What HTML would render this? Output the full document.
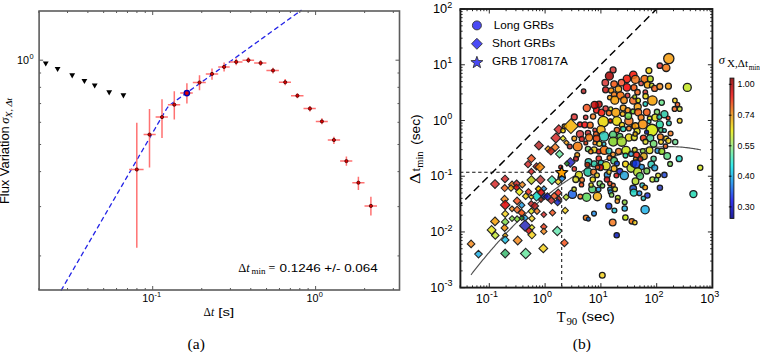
<!DOCTYPE html>
<html><head><meta charset="utf-8"><style>
html,body{margin:0;padding:0;background:#fff;width:760px;height:352px;overflow:hidden}
svg{display:block}
text{font-family:"Liberation Sans",sans-serif}
</style></head><body>
<svg width="760" height="352" viewBox="0 0 760 352">
<rect x="0" y="0" width="760" height="352" fill="#fff"/>
<path d="M61.00,290.65 L61.50,289.79 L62.00,288.93 L62.50,288.07 L63.00,287.21 L63.50,286.34 L64.00,285.48 L64.50,284.62 L65.00,283.76 L65.50,282.90 L66.00,282.04 L66.50,281.18 L67.00,280.31 L67.50,279.45 L68.00,278.59 L68.50,277.73 L69.00,276.87 L69.50,276.01 L70.00,275.15 L70.50,274.28 L71.00,273.42 L71.50,272.56 L72.00,271.70 L72.50,270.84 L73.00,269.98 L73.50,269.12 L74.00,268.25 L74.50,267.39 L75.00,266.53 L75.50,265.67 L76.00,264.81 L76.50,263.95 L77.00,263.09 L77.50,262.22 L78.00,261.36 L78.50,260.50 L79.00,259.64 L79.50,258.78 L80.00,257.92 L80.50,257.06 L81.00,256.19 L81.50,255.33 L82.00,254.47 L82.50,253.61 L83.00,252.75 L83.50,251.89 L84.00,251.03 L84.50,250.16 L85.00,249.30 L85.50,248.44 L86.00,247.58 L86.50,246.72 L87.00,245.86 L87.50,245.00 L88.00,244.13 L88.50,243.27 L89.00,242.41 L89.50,241.55 L90.00,240.69 L90.50,239.83 L91.00,238.97 L91.50,238.10 L92.00,237.24 L92.50,236.38 L93.00,235.52 L93.50,234.66 L94.00,233.80 L94.50,232.94 L95.00,232.08 L95.50,231.21 L96.00,230.35 L96.50,229.49 L97.00,228.63 L97.50,227.77 L98.00,226.91 L98.50,226.05 L99.00,225.18 L99.50,224.32 L100.00,223.46 L100.50,222.60 L101.00,221.74 L101.50,220.88 L102.00,220.02 L102.50,219.15 L103.00,218.29 L103.50,217.43 L104.00,216.57 L104.50,215.71 L105.00,214.85 L105.50,213.99 L106.00,213.12 L106.50,212.26 L107.00,211.40 L107.50,210.54 L108.00,209.68 L108.50,208.82 L109.00,207.96 L109.50,207.09 L110.00,206.23 L110.50,205.37 L111.00,204.51 L111.50,203.65 L112.00,202.79 L112.50,201.93 L113.00,201.06 L113.50,200.20 L114.00,199.34 L114.50,198.48 L115.00,197.62 L115.50,196.76 L116.00,195.90 L116.50,195.03 L117.00,194.17 L117.50,193.31 L118.00,192.45 L118.50,191.59 L119.00,190.73 L119.50,189.87 L120.00,189.00 L120.50,188.14 L121.00,187.28 L121.50,186.42 L122.00,185.56 L122.50,184.70 L123.00,183.84 L123.50,182.97 L124.00,182.11 L124.50,181.25 L125.00,180.39 L125.50,179.53 L126.00,178.67 L126.50,177.81 L127.00,176.94 L127.50,176.08 L128.00,175.22 L128.50,174.36 L129.00,173.50 L129.50,172.64 L130.00,171.78 L130.50,170.91 L131.00,170.05 L131.50,169.19 L132.00,168.33 L132.50,167.47 L133.00,166.61 L133.50,165.75 L134.00,164.89 L134.50,164.02 L135.00,163.16 L135.50,162.30 L136.00,161.44 L136.50,160.58 L137.00,159.72 L137.50,158.86 L138.00,157.99 L138.50,157.13 L139.00,156.27 L139.50,155.41 L140.00,154.55 L140.50,153.69 L141.00,152.83 L141.50,151.96 L142.00,151.10 L142.50,150.24 L143.00,149.38 L143.50,148.52 L144.00,147.66 L144.50,146.80 L145.00,145.93 L145.50,145.07 L146.00,144.21 L146.50,143.35 L147.00,142.49 L147.50,141.63 L148.00,140.77 L148.50,139.90 L149.00,139.04 L149.50,138.18 L150.00,137.32 L150.50,136.46 L151.00,135.60 L151.50,134.74 L152.00,133.87 L152.50,133.01 L153.00,132.15 L153.50,131.29 L154.00,130.43 L154.50,129.57 L155.00,128.71 L155.50,127.84 L156.00,126.98 L156.50,126.12 L157.00,125.26 L157.50,124.40 L158.00,123.54 L158.50,122.68 L159.00,121.81 L159.50,120.95 L160.00,120.09 L160.50,119.23 L161.00,118.37 L161.50,117.51 L162.00,116.65 L162.50,115.79 L163.00,114.92 L163.50,114.06 L164.00,113.21 L164.50,112.35 L165.00,111.50 L165.50,110.65 L166.00,109.82 L166.50,109.01 L167.00,108.24 L167.50,107.52 L168.00,106.87 L168.50,106.30 L169.00,105.80 L169.50,105.35 L170.00,104.94 L170.50,104.55 L171.00,104.18 L171.50,103.81 L172.00,103.45 L172.50,103.08 L173.00,102.72 L173.50,102.36 L174.00,102.00 L174.50,101.64 L175.00,101.28 L175.50,100.92 L176.00,100.56 L176.50,100.20 L177.00,99.84 L177.50,99.48 L178.00,99.12 L178.50,98.76 L179.00,98.40 L179.50,98.04 L180.00,97.67 L180.50,97.31 L181.00,96.95 L181.50,96.59 L182.00,96.23 L182.50,95.87 L183.00,95.51 L183.50,95.15 L184.00,94.79 L184.50,94.43 L185.00,94.07 L185.50,93.71 L186.00,93.35 L186.50,92.99 L187.00,92.63 L187.50,92.27 L188.00,91.91 L188.50,91.55 L189.00,91.19 L189.50,90.83 L190.00,90.47 L190.50,90.11 L191.00,89.75 L191.50,89.39 L192.00,89.03 L192.50,88.67 L193.00,88.31 L193.50,87.95 L194.00,87.59 L194.50,87.22 L195.00,86.86 L195.50,86.50 L196.00,86.14 L196.50,85.78 L197.00,85.42 L197.50,85.06 L198.00,84.70 L198.50,84.34 L199.00,83.98 L199.50,83.62 L200.00,83.26 L200.50,82.90 L201.00,82.54 L201.50,82.18 L202.00,81.82 L202.50,81.46 L203.00,81.10 L203.50,80.74 L204.00,80.38 L204.50,80.02 L205.00,79.66 L205.50,79.30 L206.00,78.94 L206.50,78.58 L207.00,78.22 L207.50,77.86 L208.00,77.50 L208.50,77.14 L209.00,76.77 L209.50,76.41 L210.00,76.05 L210.50,75.69 L211.00,75.33 L211.50,74.97 L212.00,74.61 L212.50,74.25 L213.00,73.89 L213.50,73.53 L214.00,73.17 L214.50,72.81 L215.00,72.45 L215.50,72.09 L216.00,71.73 L216.50,71.37 L217.00,71.01 L217.50,70.65 L218.00,70.29 L218.50,69.93 L219.00,69.57 L219.50,69.21 L220.00,68.85 L220.50,68.49 L221.00,68.13 L221.50,67.77 L222.00,67.41 L222.50,67.05 L223.00,66.69 L223.50,66.32 L224.00,65.96 L224.50,65.60 L225.00,65.24 L225.50,64.88 L226.00,64.52 L226.50,64.16 L227.00,63.80 L227.50,63.44 L228.00,63.08 L228.50,62.72 L229.00,62.36 L229.50,62.00 L230.00,61.64 L230.50,61.28 L231.00,60.92 L231.50,60.56 L232.00,60.20 L232.50,59.84 L233.00,59.48 L233.50,59.12 L234.00,58.76 L234.50,58.40 L235.00,58.04 L235.50,57.68 L236.00,57.32 L236.50,56.96 L237.00,56.60 L237.50,56.24 L238.00,55.87 L238.50,55.51 L239.00,55.15 L239.50,54.79 L240.00,54.43 L240.50,54.07 L241.00,53.71 L241.50,53.35 L242.00,52.99 L242.50,52.63 L243.00,52.27 L243.50,51.91 L244.00,51.55 L244.50,51.19 L245.00,50.83 L245.50,50.47 L246.00,50.11 L246.50,49.75 L247.00,49.39 L247.50,49.03 L248.00,48.67 L248.50,48.31 L249.00,47.95 L249.50,47.59 L250.00,47.23 L250.50,46.87 L251.00,46.51 L251.50,46.15 L252.00,45.79 L252.50,45.42 L253.00,45.06 L253.50,44.70 L254.00,44.34 L254.50,43.98 L255.00,43.62 L255.50,43.26 L256.00,42.90 L256.50,42.54 L257.00,42.18 L257.50,41.82 L258.00,41.46 L258.50,41.10 L259.00,40.74 L259.50,40.38 L260.00,40.02 L260.50,39.66 L261.00,39.30 L261.50,38.94 L262.00,38.58 L262.50,38.22 L263.00,37.86 L263.50,37.50 L264.00,37.14 L264.50,36.78 L265.00,36.42 L265.50,36.06 L266.00,35.70 L266.50,35.34 L267.00,34.97 L267.50,34.61 L268.00,34.25 L268.50,33.89 L269.00,33.53 L269.50,33.17 L270.00,32.81 L270.50,32.45 L271.00,32.09 L271.50,31.73 L272.00,31.37 L272.50,31.01 L273.00,30.65 L273.50,30.29 L274.00,29.93 L274.50,29.57 L275.00,29.21 L275.50,28.85 L276.00,28.49 L276.50,28.13 L277.00,27.77 L277.50,27.41 L278.00,27.05 L278.50,26.69 L279.00,26.33 L279.50,25.97 L280.00,25.61 L280.50,25.25 L281.00,24.89 L281.50,24.52 L282.00,24.16 L282.50,23.80 L283.00,23.44 L283.50,23.08 L284.00,22.72 L284.50,22.36 L285.00,22.00 L285.50,21.64 L286.00,21.28 L286.50,20.92 L287.00,20.56 L287.50,20.20 L288.00,19.84 L288.50,19.48 L289.00,19.12 L289.50,18.76 L290.00,18.40 L290.50,18.04 L291.00,17.68 L291.50,17.32 L292.00,16.96 L292.50,16.60 L293.00,16.24 L293.50,15.88 L294.00,15.52 L294.50,15.16 L295.00,14.80 L295.50,14.44 L296.00,14.07 L296.50,13.71 L297.00,13.35 L297.50,12.99 L298.00,12.63 L298.50,12.27 L299.00,11.91 L299.50,11.55 L300.00,11.19 L300.50,10.83 L301.00,10.47 L301.50,10.11" fill="none" stroke="#2323e6" stroke-width="1.3" stroke-dasharray="5,3"/>
<path d="M42.85,61.40 L48.65,61.40 L45.75,66.60 Z" fill="#000"/>
<path d="M54.70,66.90 L60.50,66.90 L57.60,72.10 Z" fill="#000"/>
<path d="M69.30,73.30 L75.10,73.30 L72.20,78.50 Z" fill="#000"/>
<path d="M81.50,78.90 L87.30,78.90 L84.40,84.10 Z" fill="#000"/>
<path d="M91.80,83.40 L97.60,83.40 L94.70,88.60 Z" fill="#000"/>
<path d="M106.30,90.20 L112.10,90.20 L109.20,95.40 Z" fill="#000"/>
<path d="M120.50,93.20 L126.30,93.20 L123.40,98.40 Z" fill="#000"/>
<path d="M129.10,169.50 H143.60 M136.80,122.70 V247.70" stroke="#ff7272" stroke-width="1.5" fill="none"/>
<path d="M143.60,134.60 H155.70 M149.50,109.00 V167.50" stroke="#ff7272" stroke-width="1.5" fill="none"/>
<path d="M155.60,117.10 H167.90 M162.00,99.20 V138.10" stroke="#ff7272" stroke-width="1.5" fill="none"/>
<path d="M167.90,104.70 H180.20 M174.30,91.20 V119.60" stroke="#ff7272" stroke-width="1.5" fill="none"/>
<path d="M180.20,93.10 H192.80 M186.90,83.20 V103.60" stroke="#ff7272" stroke-width="1.5" fill="none"/>
<path d="M192.80,82.50 H205.80 M199.50,75.20 V90.30" stroke="#ff7272" stroke-width="1.5" fill="none"/>
<path d="M205.80,73.90 H218.20 M212.00,68.40 V79.70" stroke="#ff7272" stroke-width="1.5" fill="none"/>
<path d="M218.20,66.90 H229.70 M224.10,62.50 V71.60" stroke="#ff7272" stroke-width="1.5" fill="none"/>
<path d="M229.70,61.90 H242.50 M236.20,58.60 V65.30" stroke="#ff7272" stroke-width="1.5" fill="none"/>
<path d="M242.50,60.20 H254.10 M248.40,57.20 V63.00" stroke="#ff7272" stroke-width="1.5" fill="none"/>
<path d="M254.10,63.00 H266.40 M260.60,60.20 V65.70" stroke="#ff7272" stroke-width="1.5" fill="none"/>
<path d="M266.40,70.50 H278.90 M273.00,67.70 V73.40" stroke="#ff7272" stroke-width="1.5" fill="none"/>
<path d="M278.90,82.20 H291.00 M285.20,79.00 V85.30" stroke="#ff7272" stroke-width="1.5" fill="none"/>
<path d="M291.00,95.70 H303.50 M297.40,93.30 V98.30" stroke="#ff7272" stroke-width="1.5" fill="none"/>
<path d="M303.50,108.60 H315.80 M309.90,105.90 V111.40" stroke="#ff7272" stroke-width="1.5" fill="none"/>
<path d="M315.80,121.40 H327.80 M321.90,118.20 V124.30" stroke="#ff7272" stroke-width="1.5" fill="none"/>
<path d="M327.80,140.00 H340.10 M333.90,136.70 V144.10" stroke="#ff7272" stroke-width="1.5" fill="none"/>
<path d="M340.10,161.10 H352.30 M346.40,156.40 V165.70" stroke="#ff7272" stroke-width="1.5" fill="none"/>
<path d="M352.30,182.70 H364.50 M358.40,176.80 V190.00" stroke="#ff7272" stroke-width="1.5" fill="none"/>
<path d="M364.50,205.90 H377.00 M370.90,196.80 V215.50" stroke="#ff7272" stroke-width="1.5" fill="none"/>
<circle cx="136.80" cy="169.50" r="1.6" fill="#e00000" stroke="#400000" stroke-width="0.8"/>
<circle cx="149.50" cy="134.60" r="1.6" fill="#e00000" stroke="#400000" stroke-width="0.8"/>
<circle cx="162.00" cy="117.10" r="1.6" fill="#e00000" stroke="#400000" stroke-width="0.8"/>
<circle cx="174.30" cy="104.70" r="1.6" fill="#e00000" stroke="#400000" stroke-width="0.8"/>
<circle cx="186.90" cy="93.10" r="2.6" fill="#e00000" stroke="#0000b0" stroke-width="1.5"/>
<circle cx="199.50" cy="82.50" r="1.6" fill="#e00000" stroke="#400000" stroke-width="0.8"/>
<circle cx="212.00" cy="73.90" r="1.6" fill="#e00000" stroke="#400000" stroke-width="0.8"/>
<circle cx="224.10" cy="66.90" r="1.6" fill="#e00000" stroke="#400000" stroke-width="0.8"/>
<circle cx="236.20" cy="61.90" r="1.6" fill="#e00000" stroke="#400000" stroke-width="0.8"/>
<circle cx="248.40" cy="60.20" r="1.6" fill="#e00000" stroke="#400000" stroke-width="0.8"/>
<circle cx="260.60" cy="63.00" r="1.6" fill="#e00000" stroke="#400000" stroke-width="0.8"/>
<circle cx="273.00" cy="70.50" r="1.6" fill="#e00000" stroke="#400000" stroke-width="0.8"/>
<circle cx="285.20" cy="82.20" r="1.6" fill="#e00000" stroke="#400000" stroke-width="0.8"/>
<circle cx="297.40" cy="95.70" r="1.6" fill="#e00000" stroke="#400000" stroke-width="0.8"/>
<circle cx="309.90" cy="108.60" r="1.6" fill="#e00000" stroke="#400000" stroke-width="0.8"/>
<circle cx="321.90" cy="121.40" r="1.6" fill="#e00000" stroke="#400000" stroke-width="0.8"/>
<circle cx="333.90" cy="140.00" r="1.6" fill="#e00000" stroke="#400000" stroke-width="0.8"/>
<circle cx="346.40" cy="161.10" r="1.6" fill="#e00000" stroke="#400000" stroke-width="0.8"/>
<circle cx="358.40" cy="182.70" r="1.6" fill="#e00000" stroke="#400000" stroke-width="0.8"/>
<circle cx="370.90" cy="205.90" r="1.6" fill="#e00000" stroke="#400000" stroke-width="0.8"/>
<path d="M38.84,290.00 V288.00 M38.84,11.00 V13.00 M67.52,290.00 V288.00 M67.52,11.00 V13.00 M87.88,290.00 V288.00 M87.88,11.00 V13.00 M103.66,290.00 V288.00 M103.66,11.00 V13.00 M116.56,290.00 V288.00 M116.56,11.00 V13.00 M127.47,290.00 V288.00 M127.47,11.00 V13.00 M136.91,290.00 V288.00 M136.91,11.00 V13.00 M145.25,290.00 V288.00 M145.25,11.00 V13.00 M152.70,290.00 V286.00 M152.70,11.00 V15.00 M201.74,290.00 V288.00 M201.74,11.00 V13.00 M230.42,290.00 V288.00 M230.42,11.00 V13.00 M250.78,290.00 V288.00 M250.78,11.00 V13.00 M266.56,290.00 V288.00 M266.56,11.00 V13.00 M279.46,290.00 V288.00 M279.46,11.00 V13.00 M290.37,290.00 V288.00 M290.37,11.00 V13.00 M299.81,290.00 V288.00 M299.81,11.00 V13.00 M308.15,290.00 V288.00 M308.15,11.00 V13.00 M315.60,290.00 V286.00 M315.60,11.00 V15.00 M364.64,290.00 V288.00 M364.64,11.00 V13.00 M393.32,290.00 V288.00 M393.32,11.00 V13.00 M39.10,255.91 H41.10 M399.50,255.91 H397.50 M39.10,206.61 H41.10 M399.50,206.61 H397.50 M39.10,171.62 H41.10 M399.50,171.62 H397.50 M39.10,144.49 H41.10 M399.50,144.49 H397.50 M39.10,122.32 H41.10 M399.50,122.32 H397.50 M39.10,103.57 H41.10 M399.50,103.57 H397.50 M39.10,87.33 H41.10 M399.50,87.33 H397.50 M39.10,73.01 H41.10 M399.50,73.01 H397.50 M39.10,60.20 H43.10 M399.50,60.20 H395.50" stroke="#444" stroke-width="0.9" fill="none"/>
<rect x="39.10" y="11.00" width="360.40" height="279.00" fill="none" stroke="#5c5c5c" stroke-width="1.6"/>
<text x="142.2" y="301.6" font-size="10.2" style="font-family:'Liberation Sans',sans-serif" fill="#000" textLength="12" lengthAdjust="spacingAndGlyphs">10</text>
<text x="154.5" y="297" font-size="7.4" style="font-family:'Liberation Sans',sans-serif" fill="#000">-1</text>
<text x="306.4" y="301.6" font-size="10.2" style="font-family:'Liberation Sans',sans-serif" fill="#000" textLength="12" lengthAdjust="spacingAndGlyphs">10</text>
<text x="318.7" y="297" font-size="7.4" style="font-family:'Liberation Sans',sans-serif" fill="#000">0</text>
<text x="17.1" y="63.9" font-size="10.2" style="font-family:'Liberation Sans',sans-serif" fill="#000" textLength="12" lengthAdjust="spacingAndGlyphs">10</text>
<text x="29.4" y="59.3" font-size="7.4" style="font-family:'Liberation Sans',sans-serif" fill="#000">0</text>
<text x="238.2" y="271.8" font-size="12.5" style="font-family:'Liberation Serif',serif" fill="#000">Δ<tspan font-style="italic">t</tspan></text>
<text x="251.5" y="274.2" font-size="9" style="font-family:'Liberation Serif',serif" fill="#000">min</text>
<text x="268.5" y="272" font-size="12" style="font-family:'Liberation Serif',serif" fill="#000">=</text>
<text x="279.5" y="271.8" font-size="11.7" style="font-family:'Liberation Sans',sans-serif" fill="#000" textLength="98.3" lengthAdjust="spacingAndGlyphs">0.1246 +/- 0.064</text>
<text x="203.6" y="315.7" font-size="11.5" style="font-family:'Liberation Serif',serif" fill="#000">Δ<tspan font-style="italic">t</tspan></text>
<text x="218.3" y="315.7" font-size="11.5" style="font-family:'Liberation Sans',sans-serif" fill="#000" textLength="15.8" lengthAdjust="spacingAndGlyphs">[s]</text>
<g transform="translate(9.1,204.1) rotate(-90)"><text x="0" y="0" font-size="12" style="font-family:'Liberation Sans',sans-serif" fill="#000" textLength="77.9" lengthAdjust="spacingAndGlyphs">Flux Variation</text><text x="80.4" y="0" font-size="12.5" style="font-family:'Liberation Serif',serif" font-style="italic" fill="#000">σ</text><text x="86.4" y="2.6" font-size="8.8" style="font-family:'Liberation Serif',serif" font-style="italic" fill="#000" textLength="19.8" lengthAdjust="spacingAndGlyphs">X, Δt</text></g>
<text x="187.6" y="348.8" font-size="15.5" style="font-family:'Liberation Serif',serif" fill="#000">(a)</text>
<svg x="460.40" y="9.00" width="252.00" height="278.60" viewBox="460.40 9.00 252.00 278.60" overflow="hidden">
<path d="M657.50,8.16 L455.82,208.95" stroke="#000" stroke-width="1.45" stroke-dasharray="7.6,4.4" stroke-dashoffset="0.4" fill="none"/>
<path d="M460.0,172.3 H561.7" stroke="#111" stroke-width="1.05" stroke-dasharray="3.4,2.65" fill="none"/>
<path d="M561.7,286.1 V172.3" stroke="#111" stroke-width="1.05" stroke-dasharray="3.1,2.9" fill="none"/>
<path d="M471.0,274.79 L472.0,273.50 L473.0,272.21 L474.0,270.94 L475.0,269.67 L476.0,268.40 L477.0,267.14 L478.0,265.89 L479.0,264.65 L480.0,263.41 L481.0,262.18 L482.0,260.95 L483.0,259.73 L484.0,258.52 L485.0,257.32 L486.0,256.12 L487.0,254.92 L488.0,253.74 L489.0,252.56 L490.0,251.39 L491.0,250.22 L492.0,249.06 L493.0,247.91 L494.0,246.76 L495.0,245.62 L496.0,244.48 L497.0,243.36 L498.0,242.24 L499.0,241.12 L500.0,240.01 L501.0,238.91 L502.0,237.82 L503.0,236.73 L504.0,235.65 L505.0,234.57 L506.0,233.51 L507.0,232.44 L508.0,231.39 L509.0,230.34 L510.0,229.30 L511.0,228.26 L512.0,227.23 L513.0,226.21 L514.0,225.19 L515.0,224.18 L516.0,223.18 L517.0,222.18 L518.0,221.19 L519.0,220.21 L520.0,219.23 L521.0,218.26 L522.0,217.30 L523.0,216.34 L524.0,215.39 L525.0,214.45 L526.0,213.51 L527.0,212.58 L528.0,211.65 L529.0,210.73 L530.0,209.82 L531.0,208.92 L532.0,208.02 L533.0,207.13 L534.0,206.24 L535.0,205.36 L536.0,204.49 L537.0,203.62 L538.0,202.76 L539.0,201.91 L540.0,201.07 L541.0,200.23 L542.0,199.39 L543.0,198.57 L544.0,197.74 L545.0,196.93 L546.0,196.12 L547.0,195.32 L548.0,194.53 L549.0,193.74 L550.0,192.96 L551.0,192.19 L552.0,191.42 L553.0,190.66 L554.0,189.90 L555.0,189.15 L556.0,188.41 L557.0,187.68 L558.0,186.95 L559.0,186.22 L560.0,185.51 L561.0,184.80 L562.0,184.10 L563.0,183.40 L564.0,182.71 L565.0,182.03 L566.0,181.35 L567.0,180.68 L568.0,180.02 L569.0,179.36 L570.0,178.71 L571.0,178.07 L572.0,177.43 L573.0,176.80 L574.0,176.17 L575.0,175.56 L576.0,174.94 L577.0,174.34 L578.0,173.74 L579.0,173.15 L580.0,172.56 L581.0,171.99 L582.0,171.41 L583.0,170.85 L584.0,170.29 L585.0,169.74 L586.0,169.19 L587.0,168.65 L588.0,168.12 L589.0,167.59 L590.0,167.07 L591.0,166.56 L592.0,166.05 L593.0,165.55 L594.0,165.06 L595.0,164.57 L596.0,164.09 L597.0,163.62 L598.0,163.15 L599.0,162.69 L600.0,162.23 L601.0,161.79 L602.0,161.34 L603.0,160.91 L604.0,160.48 L605.0,160.06 L606.0,159.64 L607.0,159.23 L608.0,158.83 L609.0,158.44 L610.0,158.05 L611.0,157.66 L612.0,157.29 L613.0,156.92 L614.0,156.56 L615.0,156.20 L616.0,155.85 L617.0,155.51 L618.0,155.17 L619.0,154.84 L620.0,154.51 L621.0,154.20 L622.0,153.89 L623.0,153.58 L624.0,153.28 L625.0,152.99 L626.0,152.71 L627.0,152.43 L628.0,152.16 L629.0,151.89 L630.0,151.63 L631.0,151.38 L632.0,151.14 L633.0,150.90 L634.0,150.67 L635.0,150.44 L636.0,150.22 L637.0,150.01 L638.0,149.80 L639.0,149.60 L640.0,149.41 L641.0,149.22 L642.0,149.04 L643.0,148.87 L644.0,148.70 L645.0,148.54 L646.0,148.39 L647.0,148.24 L648.0,148.10 L649.0,147.96 L650.0,147.83 L651.0,147.71 L652.0,147.60 L653.0,147.49 L654.0,147.39 L655.0,147.29 L656.0,147.20 L657.0,147.12 L658.0,147.05 L659.0,146.98 L660.0,146.91 L661.0,146.86 L662.0,146.81 L663.0,146.76 L664.0,146.73 L665.0,146.70 L666.0,146.67 L667.0,146.66 L668.0,146.65 L669.0,146.64 L670.0,146.65 L671.0,146.66 L672.0,146.67 L673.0,146.69 L674.0,146.72 L675.0,146.76 L676.0,146.80 L677.0,146.85 L678.0,146.90 L679.0,146.96 L680.0,147.03 L681.0,147.11 L682.0,147.19 L683.0,147.27 L684.0,147.37 L685.0,147.47 L686.0,147.58 L687.0,147.69 L688.0,147.81 L689.0,147.94 L690.0,148.07 L691.0,148.21 L692.0,148.36 L693.0,148.51 L694.0,148.67 L695.0,148.83 L696.0,149.01 L697.0,149.19 L698.0,149.37 L699.0,149.56 L700.0,149.76 L701.0,149.97" fill="none" stroke="#505050" stroke-width="1.15"/>
<circle cx="668.8" cy="58.6" r="5.12" fill="#f49b0a" stroke="#1e1e1e" stroke-width="1.3" fill-opacity="0.85"/>
<circle cx="659.8" cy="65.7" r="2.71" fill="#de3232" stroke="#1e1e1e" stroke-width="1.3" fill-opacity="0.85"/>
<circle cx="666.2" cy="67.8" r="3.70" fill="#f4720a" stroke="#1e1e1e" stroke-width="1.3" fill-opacity="0.85"/>
<circle cx="648.9" cy="70.6" r="2.99" fill="#f4d10a" stroke="#1e1e1e" stroke-width="1.3" fill-opacity="0.85"/>
<circle cx="613.1" cy="69.9" r="2.99" fill="#d73333" stroke="#1e1e1e" stroke-width="1.3" fill-opacity="0.85"/>
<circle cx="609.4" cy="76.0" r="3.99" fill="#a80000" stroke="#1e1e1e" stroke-width="1.3" fill-opacity="0.85"/>
<circle cx="605.3" cy="82.7" r="3.27" fill="#d73333" stroke="#1e1e1e" stroke-width="1.3" fill-opacity="0.85"/>
<circle cx="583.6" cy="91.2" r="2.28" fill="#b82727" stroke="#1e1e1e" stroke-width="1.3" fill-opacity="0.85"/>
<circle cx="605.6" cy="89.8" r="2.99" fill="#c71212" stroke="#1e1e1e" stroke-width="1.3" fill-opacity="0.85"/>
<circle cx="633.3" cy="74.9" r="3.70" fill="#f41100" stroke="#1e1e1e" stroke-width="1.3" fill-opacity="0.85"/>
<circle cx="626.9" cy="78.9" r="3.70" fill="#f41000" stroke="#1e1e1e" stroke-width="1.3" fill-opacity="0.85"/>
<circle cx="635.4" cy="79.4" r="3.99" fill="#f4771c" stroke="#1e1e1e" stroke-width="1.3" fill-opacity="0.85"/>
<circle cx="644.6" cy="79.1" r="3.70" fill="#f46900" stroke="#1e1e1e" stroke-width="1.3" fill-opacity="0.85"/>
<circle cx="650.3" cy="78.9" r="2.99" fill="#b2d70f" stroke="#1e1e1e" stroke-width="1.3" fill-opacity="0.85"/>
<circle cx="614.1" cy="84.1" r="3.27" fill="#f4520a" stroke="#1e1e1e" stroke-width="1.3" fill-opacity="0.85"/>
<circle cx="621.5" cy="82.7" r="3.27" fill="#f4522e" stroke="#1e1e1e" stroke-width="1.3" fill-opacity="0.85"/>
<circle cx="626.9" cy="87.4" r="3.70" fill="#f40000" stroke="#1e1e1e" stroke-width="1.3" fill-opacity="0.85"/>
<circle cx="634.0" cy="87.7" r="2.99" fill="#f4520a" stroke="#1e1e1e" stroke-width="1.3" fill-opacity="0.85"/>
<circle cx="618.4" cy="89.1" r="3.27" fill="#f49b0a" stroke="#1e1e1e" stroke-width="1.3" fill-opacity="0.85"/>
<circle cx="641.1" cy="83.4" r="2.28" fill="#d74646" stroke="#1e1e1e" stroke-width="1.3" fill-opacity="0.85"/>
<circle cx="647.5" cy="84.8" r="3.27" fill="#f49e00" stroke="#1e1e1e" stroke-width="1.3" fill-opacity="0.85"/>
<circle cx="651.7" cy="85.5" r="2.28" fill="#c4d721" stroke="#1e1e1e" stroke-width="1.3" fill-opacity="0.85"/>
<circle cx="654.6" cy="88.4" r="2.99" fill="#f4641c" stroke="#1e1e1e" stroke-width="1.3" fill-opacity="0.85"/>
<circle cx="659.8" cy="86.5" r="2.99" fill="#f4891c" stroke="#1e1e1e" stroke-width="1.3" fill-opacity="0.85"/>
<circle cx="668.4" cy="86.2" r="2.99" fill="#f49b0a" stroke="#1e1e1e" stroke-width="1.3" fill-opacity="0.85"/>
<circle cx="611.2" cy="90.5" r="2.71" fill="#f48c00" stroke="#1e1e1e" stroke-width="1.3" fill-opacity="0.85"/>
<circle cx="637.5" cy="92.2" r="2.71" fill="#f4641c" stroke="#1e1e1e" stroke-width="1.3" fill-opacity="0.85"/>
<circle cx="645.3" cy="92.2" r="2.28" fill="#d73333" stroke="#1e1e1e" stroke-width="1.3" fill-opacity="0.85"/>
<circle cx="645.6" cy="96.2" r="2.71" fill="#e6d40c" stroke="#1e1e1e" stroke-width="1.3" fill-opacity="0.85"/>
<circle cx="614.1" cy="94.5" r="2.71" fill="#f4770a" stroke="#1e1e1e" stroke-width="1.3" fill-opacity="0.85"/>
<circle cx="620.5" cy="95.5" r="3.70" fill="#f46900" stroke="#1e1e1e" stroke-width="1.3" fill-opacity="0.85"/>
<circle cx="609.8" cy="97.6" r="2.28" fill="#f49b0a" stroke="#1e1e1e" stroke-width="1.3" fill-opacity="0.85"/>
<circle cx="614.8" cy="100.2" r="3.99" fill="#f49e00" stroke="#1e1e1e" stroke-width="1.3" fill-opacity="0.85"/>
<circle cx="624.0" cy="100.2" r="3.27" fill="#f4890a" stroke="#1e1e1e" stroke-width="1.3" fill-opacity="0.85"/>
<circle cx="627.6" cy="95.5" r="2.28" fill="#d73333" stroke="#1e1e1e" stroke-width="1.3" fill-opacity="0.85"/>
<circle cx="633.3" cy="100.5" r="3.70" fill="#f4641c" stroke="#1e1e1e" stroke-width="1.3" fill-opacity="0.85"/>
<circle cx="638.2" cy="100.5" r="2.28" fill="#d7d700" stroke="#1e1e1e" stroke-width="1.3" fill-opacity="0.85"/>
<circle cx="634.7" cy="96.9" r="1.95" fill="#b2d721" stroke="#1e1e1e" stroke-width="1.3" fill-opacity="0.85"/>
<circle cx="652.4" cy="100.5" r="4.70" fill="#f49e00" stroke="#1e1e1e" stroke-width="1.3" fill-opacity="0.85"/>
<circle cx="661.7" cy="102.6" r="2.71" fill="#67e68b" stroke="#1e1e1e" stroke-width="1.3" fill-opacity="0.85"/>
<circle cx="674.9" cy="100.5" r="2.28" fill="#f4d11c" stroke="#1e1e1e" stroke-width="1.3" fill-opacity="0.85"/>
<circle cx="645.3" cy="104.0" r="2.28" fill="#12c7b5" stroke="#1e1e1e" stroke-width="1.3" fill-opacity="0.85"/>
<circle cx="687.3" cy="87.4" r="3.99" fill="#c2e61f" stroke="#1e1e1e" stroke-width="1.3" fill-opacity="0.85"/>
<path d="M538.9,141.1 l4.38,4.38 l-4.38,4.38 l-4.38,-4.38 z" fill="#b82727" stroke="#262626" stroke-width="1.1" fill-opacity="0.85"/>
<path d="M558.8,124.8 l4.67,4.67 l-4.67,4.67 l-4.67,-4.67 z" fill="#d72a2a" stroke="#262626" stroke-width="1.1" fill-opacity="0.85"/>
<path d="M555.9,133.0 l4.97,4.97 l-4.97,4.97 l-4.97,-4.97 z" fill="#d72a2a" stroke="#262626" stroke-width="1.1" fill-opacity="0.85"/>
<path d="M555.2,143.4 l3.93,3.93 l-3.93,3.93 l-3.93,-3.93 z" fill="#f4771c" stroke="#262626" stroke-width="1.1" fill-opacity="0.85"/>
<path d="M548.1,145.9 l3.18,3.18 l-3.18,3.18 l-3.18,-3.18 z" fill="#f49b0a" stroke="#262626" stroke-width="1.1" fill-opacity="0.85"/>
<path d="M550.9,147.2 l3.93,3.93 l-3.93,3.93 l-3.93,-3.93 z" fill="#b81503" stroke="#262626" stroke-width="1.1" fill-opacity="0.85"/>
<path d="M559.5,150.1 l3.93,3.93 l-3.93,3.93 l-3.93,-3.93 z" fill="#67e69d" stroke="#262626" stroke-width="1.1" fill-opacity="0.85"/>
<circle cx="564.4" cy="126.3" r="2.28" fill="#f48c00" stroke="#1e1e1e" stroke-width="1.3" fill-opacity="0.85"/>
<circle cx="563.0" cy="130.6" r="2.28" fill="#f4d200" stroke="#1e1e1e" stroke-width="1.3" fill-opacity="0.85"/>
<path d="M563.0,135.5 l2.88,2.88 l-2.88,2.88 l-2.88,-2.88 z" fill="#e6e61f" stroke="#262626" stroke-width="1.1" fill-opacity="0.85"/>
<circle cx="586.8" cy="108.0" r="3.56" fill="#f4521c" stroke="#1e1e1e" stroke-width="1.3" fill-opacity="0.85"/>
<circle cx="596.5" cy="110.2" r="2.99" fill="#f40a0a" stroke="#1e1e1e" stroke-width="1.3" fill-opacity="0.85"/>
<circle cx="601.6" cy="112.5" r="3.33" fill="#f41100" stroke="#1e1e1e" stroke-width="1.3" fill-opacity="0.85"/>
<circle cx="605.6" cy="108.5" r="2.65" fill="#de3232" stroke="#1e1e1e" stroke-width="1.3" fill-opacity="0.85"/>
<circle cx="610.7" cy="108.9" r="1.95" fill="#d4e61f" stroke="#1e1e1e" stroke-width="1.3" fill-opacity="0.85"/>
<circle cx="609.0" cy="113.1" r="2.65" fill="#f4640a" stroke="#1e1e1e" stroke-width="1.3" fill-opacity="0.85"/>
<circle cx="615.8" cy="112.5" r="4.13" fill="#f49e00" stroke="#1e1e1e" stroke-width="1.3" fill-opacity="0.85"/>
<circle cx="623.2" cy="108.0" r="2.99" fill="#f49b0a" stroke="#1e1e1e" stroke-width="1.3" fill-opacity="0.85"/>
<circle cx="627.7" cy="110.2" r="2.65" fill="#f4890a" stroke="#1e1e1e" stroke-width="1.3" fill-opacity="0.85"/>
<circle cx="632.3" cy="111.4" r="1.95" fill="#b2d721" stroke="#1e1e1e" stroke-width="1.3" fill-opacity="0.85"/>
<circle cx="574.3" cy="117.0" r="2.99" fill="#de3232" stroke="#1e1e1e" stroke-width="1.3" fill-opacity="0.85"/>
<circle cx="585.7" cy="117.3" r="2.20" fill="#de3232" stroke="#1e1e1e" stroke-width="1.3" fill-opacity="0.85"/>
<circle cx="593.1" cy="116.5" r="2.65" fill="#f4771c" stroke="#1e1e1e" stroke-width="1.3" fill-opacity="0.85"/>
<circle cx="603.3" cy="121.6" r="5.26" fill="#e6d400" stroke="#1e1e1e" stroke-width="1.3" fill-opacity="0.85"/>
<circle cx="616.9" cy="121.0" r="4.47" fill="#e6d400" stroke="#1e1e1e" stroke-width="1.3" fill-opacity="0.85"/>
<circle cx="610.7" cy="121.0" r="1.95" fill="#f48c00" stroke="#1e1e1e" stroke-width="1.3" fill-opacity="0.85"/>
<circle cx="622.0" cy="125.0" r="2.65" fill="#f4d10a" stroke="#1e1e1e" stroke-width="1.3" fill-opacity="0.85"/>
<circle cx="628.9" cy="121.0" r="4.13" fill="#f4771c" stroke="#1e1e1e" stroke-width="1.3" fill-opacity="0.85"/>
<circle cx="628.3" cy="115.9" r="3.33" fill="#6ad746" stroke="#1e1e1e" stroke-width="1.3" fill-opacity="0.85"/>
<path d="M570.9,118.8 l7.36,7.36 l-7.36,7.36 l-7.36,-7.36 z" fill="#f4af00" stroke="#262626" stroke-width="1.1" fill-opacity="0.85"/>
<circle cx="580.0" cy="124.4" r="2.42" fill="#f40a0a" stroke="#1e1e1e" stroke-width="1.3" fill-opacity="0.85"/>
<circle cx="584.8" cy="124.8" r="2.99" fill="#f40a0a" stroke="#1e1e1e" stroke-width="1.3" fill-opacity="0.85"/>
<circle cx="590.2" cy="125.2" r="2.99" fill="#f4640a" stroke="#1e1e1e" stroke-width="1.3" fill-opacity="0.85"/>
<circle cx="601.0" cy="129.8" r="4.13" fill="#f4ad0a" stroke="#1e1e1e" stroke-width="1.3" fill-opacity="0.85"/>
<circle cx="616.9" cy="130.1" r="2.65" fill="#f4640a" stroke="#1e1e1e" stroke-width="1.3" fill-opacity="0.85"/>
<circle cx="623.2" cy="129.0" r="2.65" fill="#21d7b2" stroke="#1e1e1e" stroke-width="1.3" fill-opacity="0.85"/>
<circle cx="628.9" cy="128.4" r="2.42" fill="#f4771c" stroke="#1e1e1e" stroke-width="1.3" fill-opacity="0.85"/>
<circle cx="633.4" cy="126.1" r="1.95" fill="#f49b0a" stroke="#1e1e1e" stroke-width="1.3" fill-opacity="0.85"/>
<circle cx="580.0" cy="134.1" r="3.56" fill="#d73333" stroke="#1e1e1e" stroke-width="1.3" fill-opacity="0.85"/>
<circle cx="588.0" cy="133.0" r="2.65" fill="#d73333" stroke="#1e1e1e" stroke-width="1.3" fill-opacity="0.85"/>
<circle cx="594.8" cy="130.1" r="1.95" fill="#d73333" stroke="#1e1e1e" stroke-width="1.3" fill-opacity="0.85"/>
<circle cx="589.1" cy="137.5" r="3.56" fill="#f4770a" stroke="#1e1e1e" stroke-width="1.3" fill-opacity="0.85"/>
<circle cx="595.9" cy="134.1" r="2.42" fill="#f4520a" stroke="#1e1e1e" stroke-width="1.3" fill-opacity="0.85"/>
<circle cx="603.9" cy="136.4" r="4.70" fill="#24c7b5" stroke="#1e1e1e" stroke-width="1.3" fill-opacity="0.85"/>
<circle cx="613.0" cy="134.7" r="3.56" fill="#48c76d" stroke="#1e1e1e" stroke-width="1.3" fill-opacity="0.85"/>
<circle cx="619.8" cy="136.4" r="2.99" fill="#4bb84b" stroke="#1e1e1e" stroke-width="1.3" fill-opacity="0.85"/>
<circle cx="628.9" cy="137.5" r="3.56" fill="#e6d40c" stroke="#1e1e1e" stroke-width="1.3" fill-opacity="0.85"/>
<circle cx="574.3" cy="138.6" r="2.42" fill="#f49b0a" stroke="#1e1e1e" stroke-width="1.3" fill-opacity="0.85"/>
<circle cx="677.5" cy="104.5" r="2.20" fill="#f4521c" stroke="#1e1e1e" stroke-width="1.3" fill-opacity="0.85"/>
<circle cx="674.6" cy="108.9" r="2.42" fill="#f4641c" stroke="#1e1e1e" stroke-width="1.3" fill-opacity="0.85"/>
<circle cx="679.7" cy="108.9" r="2.42" fill="#c4d733" stroke="#1e1e1e" stroke-width="1.3" fill-opacity="0.85"/>
<circle cx="637.7" cy="106.8" r="3.56" fill="#f49b0a" stroke="#1e1e1e" stroke-width="1.3" fill-opacity="0.85"/>
<circle cx="633.1" cy="111.4" r="2.42" fill="#7cd746" stroke="#1e1e1e" stroke-width="1.3" fill-opacity="0.85"/>
<circle cx="638.2" cy="112.3" r="3.56" fill="#f4640a" stroke="#1e1e1e" stroke-width="1.3" fill-opacity="0.85"/>
<circle cx="646.8" cy="112.3" r="3.33" fill="#f4520a" stroke="#1e1e1e" stroke-width="1.3" fill-opacity="0.85"/>
<circle cx="657.0" cy="111.9" r="2.65" fill="#7cd76a" stroke="#1e1e1e" stroke-width="1.3" fill-opacity="0.85"/>
<circle cx="664.4" cy="114.2" r="3.56" fill="#24c7a3" stroke="#1e1e1e" stroke-width="1.3" fill-opacity="0.85"/>
<circle cx="668.1" cy="118.0" r="1.95" fill="#d7330f" stroke="#1e1e1e" stroke-width="1.3" fill-opacity="0.85"/>
<circle cx="641.1" cy="117.6" r="2.99" fill="#f4770a" stroke="#1e1e1e" stroke-width="1.3" fill-opacity="0.85"/>
<circle cx="655.3" cy="117.6" r="3.56" fill="#d7d70f" stroke="#1e1e1e" stroke-width="1.3" fill-opacity="0.85"/>
<circle cx="659.3" cy="117.0" r="2.42" fill="#24c7b5" stroke="#1e1e1e" stroke-width="1.3" fill-opacity="0.85"/>
<circle cx="649.6" cy="118.2" r="2.20" fill="#e6e61f" stroke="#1e1e1e" stroke-width="1.3" fill-opacity="0.85"/>
<circle cx="649.0" cy="121.6" r="1.95" fill="#24c7b5" stroke="#1e1e1e" stroke-width="1.3" fill-opacity="0.85"/>
<circle cx="679.7" cy="120.7" r="2.42" fill="#f4d11c" stroke="#1e1e1e" stroke-width="1.3" fill-opacity="0.85"/>
<circle cx="642.8" cy="124.4" r="4.47" fill="#f48c00" stroke="#1e1e1e" stroke-width="1.3" fill-opacity="0.85"/>
<circle cx="635.4" cy="126.1" r="3.33" fill="#f49b0a" stroke="#1e1e1e" stroke-width="1.3" fill-opacity="0.85"/>
<circle cx="659.8" cy="124.4" r="3.56" fill="#21d7a0" stroke="#1e1e1e" stroke-width="1.3" fill-opacity="0.85"/>
<circle cx="668.9" cy="123.3" r="2.42" fill="#24c7b5" stroke="#1e1e1e" stroke-width="1.3" fill-opacity="0.85"/>
<circle cx="651.9" cy="130.1" r="5.83" fill="#d4e600" stroke="#1e1e1e" stroke-width="1.3" fill-opacity="0.85"/>
<circle cx="661.0" cy="130.1" r="2.42" fill="#48c76d" stroke="#1e1e1e" stroke-width="1.3" fill-opacity="0.85"/>
<circle cx="664.4" cy="130.5" r="1.95" fill="#27b8b8" stroke="#1e1e1e" stroke-width="1.3" fill-opacity="0.85"/>
<circle cx="637.1" cy="131.2" r="2.99" fill="#d7d70f" stroke="#1e1e1e" stroke-width="1.3" fill-opacity="0.85"/>
<circle cx="670.6" cy="133.5" r="2.42" fill="#f4771c" stroke="#1e1e1e" stroke-width="1.3" fill-opacity="0.85"/>
<circle cx="660.4" cy="136.9" r="2.99" fill="#f4770a" stroke="#1e1e1e" stroke-width="1.3" fill-opacity="0.85"/>
<circle cx="666.1" cy="138.4" r="2.42" fill="#f4d11c" stroke="#1e1e1e" stroke-width="1.3" fill-opacity="0.85"/>
<circle cx="643.4" cy="138.1" r="2.99" fill="#f42e0a" stroke="#1e1e1e" stroke-width="1.3" fill-opacity="0.85"/>
<circle cx="650.2" cy="138.1" r="3.56" fill="#48c791" stroke="#1e1e1e" stroke-width="1.3" fill-opacity="0.85"/>
<circle cx="634.3" cy="137.5" r="2.99" fill="#d7d70f" stroke="#1e1e1e" stroke-width="1.3" fill-opacity="0.85"/>
<circle cx="577.7" cy="146.5" r="4.47" fill="#f47600" stroke="#1e1e1e" stroke-width="1.3" fill-opacity="0.85"/>
<circle cx="569.8" cy="146.5" r="2.42" fill="#b82727" stroke="#1e1e1e" stroke-width="1.3" fill-opacity="0.85"/>
<path d="M566.4,140.0 l2.59,2.59 l-2.59,2.59 l-2.59,-2.59 z" fill="#f49b0a" stroke="#262626" stroke-width="1.1" fill-opacity="0.85"/>
<circle cx="577.2" cy="155.0" r="2.42" fill="#f49b0a" stroke="#1e1e1e" stroke-width="1.3" fill-opacity="0.85"/>
<circle cx="576.0" cy="158.7" r="2.42" fill="#b81515" stroke="#1e1e1e" stroke-width="1.3" fill-opacity="0.85"/>
<path d="M570.3,157.7 l4.73,4.73 l-4.73,4.73 l-4.73,-4.73 z" fill="#2424c7" stroke="#262626" stroke-width="1.1" fill-opacity="0.85"/>
<path d="M566.9,161.0 l2.59,2.59 l-2.59,2.59 l-2.59,-2.59 z" fill="#2c992c" stroke="#262626" stroke-width="1.1" fill-opacity="0.85"/>
<circle cx="574.3" cy="168.9" r="2.20" fill="#f42e1c" stroke="#1e1e1e" stroke-width="1.3" fill-opacity="0.85"/>
<circle cx="560.7" cy="167.0" r="1.95" fill="#f41c0a" stroke="#1e1e1e" stroke-width="1.3" fill-opacity="0.85"/>
<circle cx="588.0" cy="149.1" r="2.65" fill="#7cd76a" stroke="#1e1e1e" stroke-width="1.3" fill-opacity="0.85"/>
<circle cx="594.2" cy="149.9" r="2.99" fill="#e6d40c" stroke="#1e1e1e" stroke-width="1.3" fill-opacity="0.85"/>
<circle cx="590.8" cy="151.6" r="2.20" fill="#f4890a" stroke="#1e1e1e" stroke-width="1.3" fill-opacity="0.85"/>
<circle cx="598.8" cy="151.6" r="2.42" fill="#d70f0f" stroke="#1e1e1e" stroke-width="1.3" fill-opacity="0.85"/>
<circle cx="599.3" cy="143.7" r="2.65" fill="#d7d721" stroke="#1e1e1e" stroke-width="1.3" fill-opacity="0.85"/>
<circle cx="604.4" cy="150.3" r="4.13" fill="#f46900" stroke="#1e1e1e" stroke-width="1.3" fill-opacity="0.85"/>
<circle cx="609.0" cy="151.1" r="2.99" fill="#24c7b5" stroke="#1e1e1e" stroke-width="1.3" fill-opacity="0.85"/>
<circle cx="613.0" cy="154.5" r="2.42" fill="#f4891c" stroke="#1e1e1e" stroke-width="1.3" fill-opacity="0.85"/>
<circle cx="618.6" cy="151.4" r="2.99" fill="#f4771c" stroke="#1e1e1e" stroke-width="1.3" fill-opacity="0.85"/>
<circle cx="626.0" cy="150.5" r="4.13" fill="#c2e60c" stroke="#1e1e1e" stroke-width="1.3" fill-opacity="0.85"/>
<circle cx="625.5" cy="155.6" r="2.42" fill="#21d7a0" stroke="#1e1e1e" stroke-width="1.3" fill-opacity="0.85"/>
<circle cx="631.1" cy="153.9" r="2.42" fill="#21a0d7" stroke="#1e1e1e" stroke-width="1.3" fill-opacity="0.85"/>
<circle cx="609.5" cy="157.9" r="2.42" fill="#f4771c" stroke="#1e1e1e" stroke-width="1.3" fill-opacity="0.85"/>
<circle cx="598.8" cy="158.5" r="2.65" fill="#f42e1c" stroke="#1e1e1e" stroke-width="1.3" fill-opacity="0.85"/>
<circle cx="588.5" cy="161.9" r="3.33" fill="#24c7b5" stroke="#1e1e1e" stroke-width="1.3" fill-opacity="0.85"/>
<circle cx="594.2" cy="163.9" r="2.99" fill="#24c7a3" stroke="#1e1e1e" stroke-width="1.3" fill-opacity="0.85"/>
<circle cx="601.0" cy="162.8" r="2.65" fill="#24c7b5" stroke="#1e1e1e" stroke-width="1.3" fill-opacity="0.85"/>
<circle cx="614.1" cy="160.7" r="3.33" fill="#48c76d" stroke="#1e1e1e" stroke-width="1.3" fill-opacity="0.85"/>
<circle cx="616.9" cy="163.6" r="2.42" fill="#0f46d7" stroke="#1e1e1e" stroke-width="1.3" fill-opacity="0.85"/>
<circle cx="606.1" cy="165.8" r="4.13" fill="#d7d70f" stroke="#1e1e1e" stroke-width="1.3" fill-opacity="0.85"/>
<circle cx="600.5" cy="167.5" r="2.99" fill="#d70000" stroke="#1e1e1e" stroke-width="1.3" fill-opacity="0.85"/>
<circle cx="597.6" cy="167.3" r="2.20" fill="#f4521c" stroke="#1e1e1e" stroke-width="1.3" fill-opacity="0.85"/>
<circle cx="587.4" cy="164.7" r="2.42" fill="#b82703" stroke="#1e1e1e" stroke-width="1.3" fill-opacity="0.85"/>
<circle cx="614.1" cy="168.7" r="2.99" fill="#f4ad0a" stroke="#1e1e1e" stroke-width="1.3" fill-opacity="0.85"/>
<circle cx="625.5" cy="164.1" r="2.99" fill="#f4d200" stroke="#1e1e1e" stroke-width="1.3" fill-opacity="0.85"/>
<circle cx="631.1" cy="168.1" r="4.13" fill="#b2d721" stroke="#1e1e1e" stroke-width="1.3" fill-opacity="0.85"/>
<circle cx="588.0" cy="172.1" r="4.13" fill="#15b894" stroke="#1e1e1e" stroke-width="1.3" fill-opacity="0.85"/>
<circle cx="593.6" cy="172.1" r="2.99" fill="#f4771c" stroke="#1e1e1e" stroke-width="1.3" fill-opacity="0.85"/>
<circle cx="578.9" cy="174.9" r="3.56" fill="#d7d70f" stroke="#1e1e1e" stroke-width="1.3" fill-opacity="0.85"/>
<circle cx="597.0" cy="175.3" r="2.42" fill="#e6d41f" stroke="#1e1e1e" stroke-width="1.3" fill-opacity="0.85"/>
<circle cx="607.3" cy="174.9" r="2.99" fill="#218ed7" stroke="#1e1e1e" stroke-width="1.3" fill-opacity="0.85"/>
<circle cx="609.0" cy="172.1" r="2.20" fill="#f4d11c" stroke="#1e1e1e" stroke-width="1.3" fill-opacity="0.85"/>
<circle cx="619.8" cy="171.5" r="2.99" fill="#2121d7" stroke="#1e1e1e" stroke-width="1.3" fill-opacity="0.85"/>
<circle cx="624.3" cy="175.5" r="4.13" fill="#21a0d7" stroke="#1e1e1e" stroke-width="1.3" fill-opacity="0.85"/>
<circle cx="616.4" cy="175.5" r="2.42" fill="#d70f0f" stroke="#1e1e1e" stroke-width="1.3" fill-opacity="0.85"/>
<circle cx="633.4" cy="163.6" r="2.99" fill="#0f46d7" stroke="#1e1e1e" stroke-width="1.3" fill-opacity="0.85"/>
<circle cx="661.0" cy="142.0" r="2.42" fill="#f4d11c" stroke="#1e1e1e" stroke-width="1.3" fill-opacity="0.85"/>
<circle cx="668.4" cy="140.8" r="2.65" fill="#f4d11c" stroke="#1e1e1e" stroke-width="1.3" fill-opacity="0.85"/>
<circle cx="675.2" cy="142.0" r="2.65" fill="#6ad78e" stroke="#1e1e1e" stroke-width="1.3" fill-opacity="0.85"/>
<circle cx="665.5" cy="146.2" r="2.20" fill="#f4641c" stroke="#1e1e1e" stroke-width="1.3" fill-opacity="0.85"/>
<circle cx="653.6" cy="143.7" r="3.33" fill="#6ad76a" stroke="#1e1e1e" stroke-width="1.3" fill-opacity="0.85"/>
<circle cx="649.6" cy="150.3" r="3.33" fill="#d7d70f" stroke="#1e1e1e" stroke-width="1.3" fill-opacity="0.85"/>
<circle cx="642.8" cy="151.1" r="2.42" fill="#7fc736" stroke="#1e1e1e" stroke-width="1.3" fill-opacity="0.85"/>
<circle cx="634.8" cy="149.9" r="2.42" fill="#d7d721" stroke="#1e1e1e" stroke-width="1.3" fill-opacity="0.85"/>
<circle cx="657.6" cy="150.7" r="2.65" fill="#218ed7" stroke="#1e1e1e" stroke-width="1.3" fill-opacity="0.85"/>
<circle cx="661.8" cy="151.4" r="2.99" fill="#8ed721" stroke="#1e1e1e" stroke-width="1.3" fill-opacity="0.85"/>
<circle cx="636.5" cy="155.0" r="2.99" fill="#f41c0a" stroke="#1e1e1e" stroke-width="1.3" fill-opacity="0.85"/>
<circle cx="643.9" cy="156.2" r="3.33" fill="#d7a00f" stroke="#1e1e1e" stroke-width="1.3" fill-opacity="0.85"/>
<circle cx="667.2" cy="156.0" r="3.33" fill="#58d77c" stroke="#1e1e1e" stroke-width="1.3" fill-opacity="0.85"/>
<circle cx="679.2" cy="158.7" r="2.99" fill="#21d7c4" stroke="#1e1e1e" stroke-width="1.3" fill-opacity="0.85"/>
<circle cx="653.6" cy="158.7" r="2.65" fill="#48c791" stroke="#1e1e1e" stroke-width="1.3" fill-opacity="0.85"/>
<circle cx="635.4" cy="159.0" r="1.95" fill="#f4890a" stroke="#1e1e1e" stroke-width="1.3" fill-opacity="0.85"/>
<circle cx="640.5" cy="159.0" r="2.42" fill="#b81515" stroke="#1e1e1e" stroke-width="1.3" fill-opacity="0.85"/>
<circle cx="636.0" cy="164.1" r="4.13" fill="#0f33d7" stroke="#1e1e1e" stroke-width="1.3" fill-opacity="0.85"/>
<circle cx="651.3" cy="164.4" r="3.33" fill="#24c7b5" stroke="#1e1e1e" stroke-width="1.3" fill-opacity="0.85"/>
<circle cx="641.7" cy="167.0" r="2.65" fill="#218ed7" stroke="#1e1e1e" stroke-width="1.3" fill-opacity="0.85"/>
<circle cx="654.7" cy="167.8" r="2.99" fill="#21a0d7" stroke="#1e1e1e" stroke-width="1.3" fill-opacity="0.85"/>
<circle cx="670.1" cy="163.9" r="2.42" fill="#7cd758" stroke="#1e1e1e" stroke-width="1.3" fill-opacity="0.85"/>
<circle cx="700.2" cy="167.8" r="2.65" fill="#d4e61f" stroke="#1e1e1e" stroke-width="1.3" fill-opacity="0.85"/>
<circle cx="637.7" cy="172.1" r="4.13" fill="#b2d721" stroke="#1e1e1e" stroke-width="1.3" fill-opacity="0.85"/>
<circle cx="646.8" cy="171.0" r="2.99" fill="#6dc748" stroke="#1e1e1e" stroke-width="1.3" fill-opacity="0.85"/>
<circle cx="640.0" cy="176.1" r="3.56" fill="#48c76d" stroke="#1e1e1e" stroke-width="1.3" fill-opacity="0.85"/>
<circle cx="658.1" cy="175.5" r="2.42" fill="#d7d721" stroke="#1e1e1e" stroke-width="1.3" fill-opacity="0.85"/>
<circle cx="664.4" cy="174.9" r="2.65" fill="#2146d7" stroke="#1e1e1e" stroke-width="1.3" fill-opacity="0.85"/>
<path d="M531.4,154.5 l4.02,4.02 l-4.02,4.02 l-4.02,-4.02 z" fill="#f4521c" stroke="#262626" stroke-width="1.1" fill-opacity="0.85"/>
<path d="M528.0,160.7 l3.54,3.54 l-3.54,3.54 l-3.54,-3.54 z" fill="#d72a2a" stroke="#262626" stroke-width="1.1" fill-opacity="0.85"/>
<path d="M536.5,162.9 l3.54,3.54 l-3.54,3.54 l-3.54,-3.54 z" fill="#b81515" stroke="#262626" stroke-width="1.1" fill-opacity="0.85"/>
<path d="M539.9,162.3 l4.73,4.73 l-4.73,4.73 l-4.73,-4.73 z" fill="#f48600" stroke="#262626" stroke-width="1.1" fill-opacity="0.85"/>
<path d="M531.4,168.4 l3.18,3.18 l-3.18,3.18 l-3.18,-3.18 z" fill="#d72121" stroke="#262626" stroke-width="1.1" fill-opacity="0.85"/>
<path d="M531.4,175.7 l4.38,4.38 l-4.38,4.38 l-4.38,-4.38 z" fill="#b5c712" stroke="#262626" stroke-width="1.1" fill-opacity="0.85"/>
<path d="M540.5,175.4 l4.38,4.38 l-4.38,4.38 l-4.38,-4.38 z" fill="#c03838" stroke="#262626" stroke-width="1.1" fill-opacity="0.85"/>
<path d="M551.9,175.7 l4.38,4.38 l-4.38,4.38 l-4.38,-4.38 z" fill="#43e6b0" stroke="#262626" stroke-width="1.1" fill-opacity="0.85"/>
<path d="M505.0,175.2 l3.78,3.78 l-3.78,3.78 l-3.78,-3.78 z" fill="#d72a2a" stroke="#262626" stroke-width="1.1" fill-opacity="0.85"/>
<path d="M495.0,179.7 l4.38,4.38 l-4.38,4.38 l-4.38,-4.38 z" fill="#d72a2a" stroke="#262626" stroke-width="1.1" fill-opacity="0.85"/>
<path d="M512.1,181.1 l3.54,3.54 l-3.54,3.54 l-3.54,-3.54 z" fill="#f4770a" stroke="#262626" stroke-width="1.1" fill-opacity="0.85"/>
<path d="M516.6,180.0 l3.54,3.54 l-3.54,3.54 l-3.54,-3.54 z" fill="#c72424" stroke="#262626" stroke-width="1.1" fill-opacity="0.85"/>
<path d="M522.3,181.5 l3.18,3.18 l-3.18,3.18 l-3.18,-3.18 z" fill="#f4891c" stroke="#262626" stroke-width="1.1" fill-opacity="0.85"/>
<path d="M504.7,184.5 l3.54,3.54 l-3.54,3.54 l-3.54,-3.54 z" fill="#f4641c" stroke="#262626" stroke-width="1.1" fill-opacity="0.85"/>
<path d="M511.0,184.9 l3.18,3.18 l-3.18,3.18 l-3.18,-3.18 z" fill="#f4ad0a" stroke="#262626" stroke-width="1.1" fill-opacity="0.85"/>
<path d="M516.6,184.3 l3.18,3.18 l-3.18,3.18 l-3.18,-3.18 z" fill="#d70000" stroke="#262626" stroke-width="1.1" fill-opacity="0.85"/>
<path d="M538.2,185.8 l2.83,2.83 l-2.83,2.83 l-2.83,-2.83 z" fill="#f4d11c" stroke="#262626" stroke-width="1.1" fill-opacity="0.85"/>
<path d="M543.9,185.8 l2.83,2.83 l-2.83,2.83 l-2.83,-2.83 z" fill="#218ed7" stroke="#262626" stroke-width="1.1" fill-opacity="0.85"/>
<path d="M519.4,188.0 l3.78,3.78 l-3.78,3.78 l-3.78,-3.78 z" fill="#e6e60c" stroke="#262626" stroke-width="1.1" fill-opacity="0.85"/>
<path d="M528.5,188.6 l3.18,3.18 l-3.18,3.18 l-3.18,-3.18 z" fill="#f42e1c" stroke="#262626" stroke-width="1.1" fill-opacity="0.85"/>
<path d="M525.7,193.0 l3.18,3.18 l-3.18,3.18 l-3.18,-3.18 z" fill="#f4d10a" stroke="#262626" stroke-width="1.1" fill-opacity="0.85"/>
<path d="M538.7,185.8 l3.18,3.18 l-3.18,3.18 l-3.18,-3.18 z" fill="#f4c100" stroke="#262626" stroke-width="1.1" fill-opacity="0.85"/>
<path d="M541.0,188.6 l3.78,3.78 l-3.78,3.78 l-3.78,-3.78 z" fill="#d70000" stroke="#262626" stroke-width="1.1" fill-opacity="0.85"/>
<path d="M536.5,191.6 l4.73,4.73 l-4.73,4.73 l-4.73,-4.73 z" fill="#0fd7c4" stroke="#262626" stroke-width="1.1" fill-opacity="0.85"/>
<path d="M544.4,193.2 l3.18,3.18 l-3.18,3.18 l-3.18,-3.18 z" fill="#1515b8" stroke="#262626" stroke-width="1.1" fill-opacity="0.85"/>
<path d="M531.3,194.4 l2.51,2.51 l-2.51,2.51 l-2.51,-2.51 z" fill="#f4d11c" stroke="#262626" stroke-width="1.1" fill-opacity="0.85"/>
<path d="M541.0,197.2 l2.59,2.59 l-2.59,2.59 l-2.59,-2.59 z" fill="#992c1a" stroke="#262626" stroke-width="1.1" fill-opacity="0.85"/>
<path d="M504.6,195.4 l3.78,3.78 l-3.78,3.78 l-3.78,-3.78 z" fill="#f4891c" stroke="#262626" stroke-width="1.1" fill-opacity="0.85"/>
<path d="M505.2,200.2 l4.73,4.73 l-4.73,4.73 l-4.73,-4.73 z" fill="#de0000" stroke="#262626" stroke-width="1.1" fill-opacity="0.85"/>
<path d="M517.1,197.1 l3.78,3.78 l-3.78,3.78 l-3.78,-3.78 z" fill="#f4521c" stroke="#262626" stroke-width="1.1" fill-opacity="0.85"/>
<path d="M521.7,202.0 l3.18,3.18 l-3.18,3.18 l-3.18,-3.18 z" fill="#1f9de6" stroke="#262626" stroke-width="1.1" fill-opacity="0.85"/>
<path d="M512.0,206.0 l2.83,2.83 l-2.83,2.83 l-2.83,-2.83 z" fill="#f4891c" stroke="#262626" stroke-width="1.1" fill-opacity="0.85"/>
<path d="M517.1,206.2 l3.54,3.54 l-3.54,3.54 l-3.54,-3.54 z" fill="#f4641c" stroke="#262626" stroke-width="1.1" fill-opacity="0.85"/>
<path d="M521.7,209.3 l3.54,3.54 l-3.54,3.54 l-3.54,-3.54 z" fill="#f44600" stroke="#262626" stroke-width="1.1" fill-opacity="0.85"/>
<path d="M531.3,200.6 l3.18,3.18 l-3.18,3.18 l-3.18,-3.18 z" fill="#c72424" stroke="#262626" stroke-width="1.1" fill-opacity="0.85"/>
<path d="M534.8,202.2 l3.78,3.78 l-3.78,3.78 l-3.78,-3.78 z" fill="#b81515" stroke="#262626" stroke-width="1.1" fill-opacity="0.85"/>
<path d="M537.0,208.0 l3.18,3.18 l-3.18,3.18 l-3.18,-3.18 z" fill="#f4771c" stroke="#262626" stroke-width="1.1" fill-opacity="0.85"/>
<path d="M531.3,208.0 l3.18,3.18 l-3.18,3.18 l-3.18,-3.18 z" fill="#d7d70f" stroke="#262626" stroke-width="1.1" fill-opacity="0.85"/>
<path d="M505.2,210.4 l3.54,3.54 l-3.54,3.54 l-3.54,-3.54 z" fill="#f4d11c" stroke="#262626" stroke-width="1.1" fill-opacity="0.85"/>
<path d="M525.1,214.8 l3.18,3.18 l-3.18,3.18 l-3.18,-3.18 z" fill="#1f9de6" stroke="#262626" stroke-width="1.1" fill-opacity="0.85"/>
<path d="M521.7,215.4 l2.59,2.59 l-2.59,2.59 l-2.59,-2.59 z" fill="#2c992c" stroke="#262626" stroke-width="1.1" fill-opacity="0.85"/>
<path d="M517.1,215.9 l3.18,3.18 l-3.18,3.18 l-3.18,-3.18 z" fill="#7cd733" stroke="#262626" stroke-width="1.1" fill-opacity="0.85"/>
<path d="M512.0,215.7 l2.83,2.83 l-2.83,2.83 l-2.83,-2.83 z" fill="#7cd746" stroke="#262626" stroke-width="1.1" fill-opacity="0.85"/>
<path d="M531.9,215.3 l3.18,3.18 l-3.18,3.18 l-3.18,-3.18 z" fill="#f4d11c" stroke="#262626" stroke-width="1.1" fill-opacity="0.85"/>
<path d="M543.8,211.7 l2.83,2.83 l-2.83,2.83 l-2.83,-2.83 z" fill="#d72a2a" stroke="#262626" stroke-width="1.1" fill-opacity="0.85"/>
<path d="M495.0,217.0 l4.38,4.38 l-4.38,4.38 l-4.38,-4.38 z" fill="#f49e00" stroke="#262626" stroke-width="1.1" fill-opacity="0.85"/>
<path d="M505.2,218.2 l3.78,3.78 l-3.78,3.78 l-3.78,-3.78 z" fill="#7cd746" stroke="#262626" stroke-width="1.1" fill-opacity="0.85"/>
<path d="M558.2,178.6 l3.18,3.18 l-3.18,3.18 l-3.18,-3.18 z" fill="#f4d11c" stroke="#262626" stroke-width="1.1" fill-opacity="0.85"/>
<path d="M562.2,175.2 l3.18,3.18 l-3.18,3.18 l-3.18,-3.18 z" fill="#1f8be6" stroke="#262626" stroke-width="1.1" fill-opacity="0.85"/>
<path d="M547.4,192.8 l3.78,3.78 l-3.78,3.78 l-3.78,-3.78 z" fill="#1515b8" stroke="#262626" stroke-width="1.1" fill-opacity="0.85"/>
<path d="M558.2,189.1 l3.54,3.54 l-3.54,3.54 l-3.54,-3.54 z" fill="#f42e1c" stroke="#262626" stroke-width="1.1" fill-opacity="0.85"/>
<path d="M554.2,192.5 l3.54,3.54 l-3.54,3.54 l-3.54,-3.54 z" fill="#f4521c" stroke="#262626" stroke-width="1.1" fill-opacity="0.85"/>
<path d="M551.4,197.0 l3.54,3.54 l-3.54,3.54 l-3.54,-3.54 z" fill="#b82727" stroke="#262626" stroke-width="1.1" fill-opacity="0.85"/>
<path d="M558.8,196.0 l2.83,2.83 l-2.83,2.83 l-2.83,-2.83 z" fill="#b81515" stroke="#262626" stroke-width="1.1" fill-opacity="0.85"/>
<path d="M557.6,198.7 l3.54,3.54 l-3.54,3.54 l-3.54,-3.54 z" fill="#1224c7" stroke="#262626" stroke-width="1.1" fill-opacity="0.85"/>
<path d="M566.1,194.0 l3.18,3.18 l-3.18,3.18 l-3.18,-3.18 z" fill="#b2d721" stroke="#262626" stroke-width="1.1" fill-opacity="0.85"/>
<circle cx="572.4" cy="194.3" r="4.13" fill="#1860e6" stroke="#1e1e1e" stroke-width="1.3" fill-opacity="0.85"/>
<circle cx="574.1" cy="189.2" r="2.20" fill="#c4d733" stroke="#1e1e1e" stroke-width="1.3" fill-opacity="0.85"/>
<circle cx="575.8" cy="179.5" r="2.99" fill="#d7d721" stroke="#1e1e1e" stroke-width="1.3" fill-opacity="0.85"/>
<circle cx="582.0" cy="180.1" r="2.42" fill="#f4771c" stroke="#1e1e1e" stroke-width="1.3" fill-opacity="0.85"/>
<circle cx="581.5" cy="184.7" r="2.20" fill="#f4400a" stroke="#1e1e1e" stroke-width="1.3" fill-opacity="0.85"/>
<circle cx="580.3" cy="196.6" r="2.42" fill="#f4771c" stroke="#1e1e1e" stroke-width="1.3" fill-opacity="0.85"/>
<circle cx="586.6" cy="197.2" r="4.13" fill="#58d758" stroke="#1e1e1e" stroke-width="1.3" fill-opacity="0.85"/>
<circle cx="592.3" cy="189.2" r="3.56" fill="#48c76d" stroke="#1e1e1e" stroke-width="1.3" fill-opacity="0.85"/>
<circle cx="592.8" cy="179.5" r="2.65" fill="#e6d40c" stroke="#1e1e1e" stroke-width="1.3" fill-opacity="0.85"/>
<circle cx="591.1" cy="185.0" r="2.20" fill="#d7d721" stroke="#1e1e1e" stroke-width="1.3" fill-opacity="0.85"/>
<circle cx="599.7" cy="183.5" r="2.65" fill="#7cd76a" stroke="#1e1e1e" stroke-width="1.3" fill-opacity="0.85"/>
<circle cx="602.5" cy="185.8" r="2.20" fill="#7cd758" stroke="#1e1e1e" stroke-width="1.3" fill-opacity="0.85"/>
<circle cx="598.5" cy="189.5" r="2.42" fill="#1f9de6" stroke="#1e1e1e" stroke-width="1.3" fill-opacity="0.85"/>
<circle cx="597.4" cy="196.6" r="4.13" fill="#f4ad0a" stroke="#1e1e1e" stroke-width="1.3" fill-opacity="0.85"/>
<circle cx="607.0" cy="179.5" r="2.65" fill="#d70f0f" stroke="#1e1e1e" stroke-width="1.3" fill-opacity="0.85"/>
<circle cx="609.9" cy="183.5" r="2.20" fill="#f4400a" stroke="#1e1e1e" stroke-width="1.3" fill-opacity="0.85"/>
<circle cx="613.3" cy="185.2" r="1.95" fill="#f4641c" stroke="#1e1e1e" stroke-width="1.3" fill-opacity="0.85"/>
<circle cx="609.9" cy="189.2" r="2.20" fill="#1f9de6" stroke="#1e1e1e" stroke-width="1.3" fill-opacity="0.85"/>
<circle cx="615.0" cy="189.2" r="2.42" fill="#d7d721" stroke="#1e1e1e" stroke-width="1.3" fill-opacity="0.85"/>
<circle cx="610.5" cy="192.0" r="2.20" fill="#21a0d7" stroke="#1e1e1e" stroke-width="1.3" fill-opacity="0.85"/>
<circle cx="611.6" cy="194.9" r="2.20" fill="#7cd758" stroke="#1e1e1e" stroke-width="1.3" fill-opacity="0.85"/>
<circle cx="617.8" cy="197.7" r="2.42" fill="#b2d721" stroke="#1e1e1e" stroke-width="1.3" fill-opacity="0.85"/>
<circle cx="617.3" cy="201.1" r="2.20" fill="#f4891c" stroke="#1e1e1e" stroke-width="1.3" fill-opacity="0.85"/>
<circle cx="608.8" cy="206.2" r="2.99" fill="#0f33d7" stroke="#1e1e1e" stroke-width="1.3" fill-opacity="0.85"/>
<circle cx="614.4" cy="210.5" r="2.42" fill="#21c4d7" stroke="#1e1e1e" stroke-width="1.3" fill-opacity="0.85"/>
<path d="M565.2,207.3 l3.18,3.18 l-3.18,3.18 l-3.18,-3.18 z" fill="#f4d11c" stroke="#262626" stroke-width="1.1" fill-opacity="0.85"/>
<path d="M552.5,209.5 l3.18,3.18 l-3.18,3.18 l-3.18,-3.18 z" fill="#f4521c" stroke="#262626" stroke-width="1.1" fill-opacity="0.85"/>
<circle cx="594.0" cy="213.6" r="2.42" fill="#1f8be6" stroke="#1e1e1e" stroke-width="1.3" fill-opacity="0.85"/>
<circle cx="635.5" cy="181.2" r="3.33" fill="#b2d721" stroke="#1e1e1e" stroke-width="1.3" fill-opacity="0.85"/>
<circle cx="652.5" cy="179.5" r="2.65" fill="#c2e631" stroke="#1e1e1e" stroke-width="1.3" fill-opacity="0.85"/>
<circle cx="656.5" cy="179.5" r="2.20" fill="#48c791" stroke="#1e1e1e" stroke-width="1.3" fill-opacity="0.85"/>
<circle cx="642.3" cy="185.2" r="2.42" fill="#27b8b8" stroke="#1e1e1e" stroke-width="1.3" fill-opacity="0.85"/>
<circle cx="645.1" cy="187.5" r="2.42" fill="#f49e00" stroke="#1e1e1e" stroke-width="1.3" fill-opacity="0.85"/>
<circle cx="633.2" cy="188.6" r="3.33" fill="#1248c7" stroke="#1e1e1e" stroke-width="1.3" fill-opacity="0.85"/>
<circle cx="633.8" cy="192.6" r="3.56" fill="#21d7c4" stroke="#1e1e1e" stroke-width="1.3" fill-opacity="0.85"/>
<circle cx="639.4" cy="193.2" r="2.42" fill="#1f8be6" stroke="#1e1e1e" stroke-width="1.3" fill-opacity="0.85"/>
<circle cx="659.9" cy="187.7" r="2.65" fill="#2739b8" stroke="#1e1e1e" stroke-width="1.3" fill-opacity="0.85"/>
<circle cx="647.4" cy="195.5" r="2.65" fill="#2133d7" stroke="#1e1e1e" stroke-width="1.3" fill-opacity="0.85"/>
<circle cx="643.4" cy="198.3" r="2.20" fill="#24c7c7" stroke="#1e1e1e" stroke-width="1.3" fill-opacity="0.85"/>
<circle cx="693.4" cy="194.1" r="3.56" fill="#21d7b2" stroke="#1e1e1e" stroke-width="1.3" fill-opacity="0.85"/>
<circle cx="624.7" cy="202.3" r="2.42" fill="#7fc736" stroke="#1e1e1e" stroke-width="1.3" fill-opacity="0.85"/>
<circle cx="624.7" cy="208.5" r="2.65" fill="#1fb0e6" stroke="#1e1e1e" stroke-width="1.3" fill-opacity="0.85"/>
<circle cx="645.1" cy="209.7" r="4.13" fill="#1fb0e6" stroke="#1e1e1e" stroke-width="1.3" fill-opacity="0.85"/>
<path d="M525.1,220.1 l5.57,5.57 l-5.57,5.57 l-5.57,-5.57 z" fill="#2727b8" stroke="#262626" stroke-width="1.1" fill-opacity="0.85"/>
<path d="M504.6,224.4 l3.54,3.54 l-3.54,3.54 l-3.54,-3.54 z" fill="#f48c00" stroke="#262626" stroke-width="1.1" fill-opacity="0.85"/>
<path d="M491.6,225.6 l4.38,4.38 l-4.38,4.38 l-4.38,-4.38 z" fill="#e6e61f" stroke="#262626" stroke-width="1.1" fill-opacity="0.85"/>
<path d="M531.9,224.6 l2.83,2.83 l-2.83,2.83 l-2.83,-2.83 z" fill="#e6e61f" stroke="#262626" stroke-width="1.1" fill-opacity="0.85"/>
<path d="M529.1,227.3 l3.54,3.54 l-3.54,3.54 l-3.54,-3.54 z" fill="#d70f0f" stroke="#262626" stroke-width="1.1" fill-opacity="0.85"/>
<path d="M531.9,230.8 l4.02,4.02 l-4.02,4.02 l-4.02,-4.02 z" fill="#f4d11c" stroke="#262626" stroke-width="1.1" fill-opacity="0.85"/>
<path d="M495.3,231.6 l3.78,3.78 l-3.78,3.78 l-3.78,-3.78 z" fill="#c2e631" stroke="#262626" stroke-width="1.1" fill-opacity="0.85"/>
<path d="M505.2,232.8 l2.59,2.59 l-2.59,2.59 l-2.59,-2.59 z" fill="#f4ad0a" stroke="#262626" stroke-width="1.1" fill-opacity="0.85"/>
<path d="M505.2,236.1 l3.78,3.78 l-3.78,3.78 l-3.78,-3.78 z" fill="#1fc2e6" stroke="#262626" stroke-width="1.1" fill-opacity="0.85"/>
<path d="M517.7,236.1 l4.38,4.38 l-4.38,4.38 l-4.38,-4.38 z" fill="#f4891c" stroke="#262626" stroke-width="1.1" fill-opacity="0.85"/>
<path d="M543.8,223.6 l3.18,3.18 l-3.18,3.18 l-3.18,-3.18 z" fill="#f4401c" stroke="#262626" stroke-width="1.1" fill-opacity="0.85"/>
<path d="M543.8,228.2 l3.18,3.18 l-3.18,3.18 l-3.18,-3.18 z" fill="#f4891c" stroke="#262626" stroke-width="1.1" fill-opacity="0.85"/>
<path d="M471.1,240.1 l3.78,3.78 l-3.78,3.78 l-3.78,-3.78 z" fill="#f4891c" stroke="#262626" stroke-width="1.1" fill-opacity="0.85"/>
<path d="M543.3,244.0 l4.38,4.38 l-4.38,4.38 l-4.38,-4.38 z" fill="#f4d11c" stroke="#262626" stroke-width="1.1" fill-opacity="0.85"/>
<path d="M478.5,250.3 l3.78,3.78 l-3.78,3.78 l-3.78,-3.78 z" fill="#1fb0e6" stroke="#262626" stroke-width="1.1" fill-opacity="0.85"/>
<path d="M505.2,249.1 l4.38,4.38 l-4.38,4.38 l-4.38,-4.38 z" fill="#39b86f" stroke="#262626" stroke-width="1.1" fill-opacity="0.85"/>
<path d="M525.7,248.3 l5.21,5.21 l-5.21,5.21 l-5.21,-5.21 z" fill="#67e69d" stroke="#262626" stroke-width="1.1" fill-opacity="0.85"/>
<circle cx="586.0" cy="217.7" r="2.65" fill="#f4770a" stroke="#1e1e1e" stroke-width="1.3" fill-opacity="0.85"/>
<circle cx="588.3" cy="219.1" r="1.95" fill="#0f6ad7" stroke="#1e1e1e" stroke-width="1.3" fill-opacity="0.85"/>
<circle cx="612.7" cy="222.5" r="3.33" fill="#f4771c" stroke="#1e1e1e" stroke-width="1.3" fill-opacity="0.85"/>
<circle cx="616.7" cy="235.2" r="2.65" fill="#0315b8" stroke="#1e1e1e" stroke-width="1.3" fill-opacity="0.85"/>
<path d="M557.3,226.3 l4.73,4.73 l-4.73,4.73 l-4.73,-4.73 z" fill="#67e6b0" stroke="#262626" stroke-width="1.1" fill-opacity="0.85"/>
<path d="M564.4,239.2 l3.78,3.78 l-3.78,3.78 l-3.78,-3.78 z" fill="#f4521c" stroke="#262626" stroke-width="1.1" fill-opacity="0.85"/>
<circle cx="625.4" cy="217.5" r="2.71" fill="#c2e600" stroke="#1e1e1e" stroke-width="1.3" fill-opacity="0.85"/>
<circle cx="631.8" cy="221.3" r="2.71" fill="#f46900" stroke="#1e1e1e" stroke-width="1.3" fill-opacity="0.85"/>
<circle cx="634.8" cy="222.6" r="2.28" fill="#f4d11c" stroke="#1e1e1e" stroke-width="1.3" fill-opacity="0.85"/>
<circle cx="622.7" cy="114.0" r="2.45" fill="#f4ad0a" stroke="#1e1e1e" stroke-width="1.3" fill-opacity="0.85"/>
<circle cx="581.8" cy="139.0" r="2.55" fill="#cf1111" stroke="#1e1e1e" stroke-width="1.3" fill-opacity="0.85"/>
<circle cx="596.6" cy="138.4" r="3.35" fill="#de3500" stroke="#1e1e1e" stroke-width="1.3" fill-opacity="0.85"/>
<circle cx="635.2" cy="133.9" r="2.15" fill="#e6b00c" stroke="#1e1e1e" stroke-width="1.3" fill-opacity="0.85"/>
<circle cx="585.8" cy="143.0" r="1.95" fill="#c72400" stroke="#1e1e1e" stroke-width="1.3" fill-opacity="0.85"/>
<circle cx="604.0" cy="144.1" r="1.95" fill="#24b5c7" stroke="#1e1e1e" stroke-width="1.3" fill-opacity="0.85"/>
<circle cx="646.6" cy="132.2" r="1.95" fill="#1527b8" stroke="#1e1e1e" stroke-width="1.3" fill-opacity="0.85"/>
<circle cx="645.5" cy="141.8" r="2.55" fill="#d7d721" stroke="#1e1e1e" stroke-width="1.3" fill-opacity="0.85"/>
<circle cx="594.9" cy="143.0" r="1.95" fill="#f4770a" stroke="#1e1e1e" stroke-width="1.3" fill-opacity="0.85"/>
<circle cx="610.2" cy="120.8" r="1.95" fill="#d71100" stroke="#1e1e1e" stroke-width="1.3" fill-opacity="0.85"/>
<circle cx="599.0" cy="104.2" r="3.15" fill="#c30000" stroke="#1e1e1e" stroke-width="1.3" fill-opacity="0.85"/>
<circle cx="594.6" cy="105.0" r="3.55" fill="#c30000" stroke="#1e1e1e" stroke-width="1.3" fill-opacity="0.85"/>
<circle cx="613.2" cy="141.6" r="4.45" fill="#7dcf23" stroke="#1e1e1e" stroke-width="1.3" fill-opacity="0.85"/>
<circle cx="621.7" cy="141.6" r="4.65" fill="#98d322" stroke="#1e1e1e" stroke-width="1.3" fill-opacity="0.85"/>
<circle cx="602.3" cy="275.2" r="2.88" fill="#f4d11c" stroke="#1e1e1e" stroke-width="1.3" fill-opacity="0.85"/>
<path d="M561.70,166.40 L563.40,170.45 L567.79,170.82 L564.46,173.70 L565.46,177.98 L561.70,175.70 L557.94,177.98 L558.94,173.70 L555.61,170.82 L560.00,170.45Z" fill="#ffa000" stroke="#111" stroke-width="1.3" stroke-linejoin="round"/>
</svg>
<path d="M460.12,287.60 V285.40 M460.12,9.00 V11.20 M467.09,287.60 V285.40 M467.09,9.00 V11.20 M472.50,287.60 V285.40 M472.50,9.00 V11.20 M476.92,287.60 V285.40 M476.92,9.00 V11.20 M480.66,287.60 V285.40 M480.66,9.00 V11.20 M483.89,287.60 V285.40 M483.89,9.00 V11.20 M486.75,287.60 V285.40 M486.75,9.00 V11.20 M489.30,287.60 V283.10 M489.30,9.00 V13.50 M506.10,287.60 V285.40 M506.10,9.00 V11.20 M515.92,287.60 V285.40 M515.92,9.00 V11.20 M522.89,287.60 V285.40 M522.89,9.00 V11.20 M528.30,287.60 V285.40 M528.30,9.00 V11.20 M532.72,287.60 V285.40 M532.72,9.00 V11.20 M536.46,287.60 V285.40 M536.46,9.00 V11.20 M539.69,287.60 V285.40 M539.69,9.00 V11.20 M542.55,287.60 V285.40 M542.55,9.00 V11.20 M545.10,287.60 V283.10 M545.10,9.00 V13.50 M561.90,287.60 V285.40 M561.90,9.00 V11.20 M571.72,287.60 V285.40 M571.72,9.00 V11.20 M578.69,287.60 V285.40 M578.69,9.00 V11.20 M584.10,287.60 V285.40 M584.10,9.00 V11.20 M588.52,287.60 V285.40 M588.52,9.00 V11.20 M592.26,287.60 V285.40 M592.26,9.00 V11.20 M595.49,287.60 V285.40 M595.49,9.00 V11.20 M598.35,287.60 V285.40 M598.35,9.00 V11.20 M600.90,287.60 V283.10 M600.90,9.00 V13.50 M617.70,287.60 V285.40 M617.70,9.00 V11.20 M627.52,287.60 V285.40 M627.52,9.00 V11.20 M634.49,287.60 V285.40 M634.49,9.00 V11.20 M639.90,287.60 V285.40 M639.90,9.00 V11.20 M644.32,287.60 V285.40 M644.32,9.00 V11.20 M648.06,287.60 V285.40 M648.06,9.00 V11.20 M651.29,287.60 V285.40 M651.29,9.00 V11.20 M654.15,287.60 V285.40 M654.15,9.00 V11.20 M656.70,287.60 V283.10 M656.70,9.00 V13.50 M673.50,287.60 V285.40 M673.50,9.00 V11.20 M683.32,287.60 V285.40 M683.32,9.00 V11.20 M690.29,287.60 V285.40 M690.29,9.00 V11.20 M695.70,287.60 V285.40 M695.70,9.00 V11.20 M700.12,287.60 V285.40 M700.12,9.00 V11.20 M703.86,287.60 V285.40 M703.86,9.00 V11.20 M707.09,287.60 V285.40 M707.09,9.00 V11.20 M709.95,287.60 V285.40 M709.95,9.00 V11.20 M712.50,287.60 V283.10 M712.50,9.00 V13.50 M460.40,287.66 H464.90 M712.40,287.66 H707.90 M460.40,270.89 H462.60 M712.40,270.89 H710.20 M460.40,261.07 H462.60 M712.40,261.07 H710.20 M460.40,254.11 H462.60 M712.40,254.11 H710.20 M460.40,248.71 H462.60 M712.40,248.71 H710.20 M460.40,244.30 H462.60 M712.40,244.30 H710.20 M460.40,240.57 H462.60 M712.40,240.57 H710.20 M460.40,237.34 H462.60 M712.40,237.34 H710.20 M460.40,234.49 H462.60 M712.40,234.49 H710.20 M460.40,231.94 H464.90 M712.40,231.94 H707.90 M460.40,215.17 H462.60 M712.40,215.17 H710.20 M460.40,205.35 H462.60 M712.40,205.35 H710.20 M460.40,198.39 H462.60 M712.40,198.39 H710.20 M460.40,192.99 H462.60 M712.40,192.99 H710.20 M460.40,188.58 H462.60 M712.40,188.58 H710.20 M460.40,184.85 H462.60 M712.40,184.85 H710.20 M460.40,181.62 H462.60 M712.40,181.62 H710.20 M460.40,178.77 H462.60 M712.40,178.77 H710.20 M460.40,176.22 H464.90 M712.40,176.22 H707.90 M460.40,159.45 H462.60 M712.40,159.45 H710.20 M460.40,149.63 H462.60 M712.40,149.63 H710.20 M460.40,142.67 H462.60 M712.40,142.67 H710.20 M460.40,137.27 H462.60 M712.40,137.27 H710.20 M460.40,132.86 H462.60 M712.40,132.86 H710.20 M460.40,129.13 H462.60 M712.40,129.13 H710.20 M460.40,125.90 H462.60 M712.40,125.90 H710.20 M460.40,123.05 H462.60 M712.40,123.05 H710.20 M460.40,120.50 H464.90 M712.40,120.50 H707.90 M460.40,103.73 H462.60 M712.40,103.73 H710.20 M460.40,93.91 H462.60 M712.40,93.91 H710.20 M460.40,86.95 H462.60 M712.40,86.95 H710.20 M460.40,81.55 H462.60 M712.40,81.55 H710.20 M460.40,77.14 H462.60 M712.40,77.14 H710.20 M460.40,73.41 H462.60 M712.40,73.41 H710.20 M460.40,70.18 H462.60 M712.40,70.18 H710.20 M460.40,67.33 H462.60 M712.40,67.33 H710.20 M460.40,64.78 H464.90 M712.40,64.78 H707.90 M460.40,48.01 H462.60 M712.40,48.01 H710.20 M460.40,38.19 H462.60 M712.40,38.19 H710.20 M460.40,31.23 H462.60 M712.40,31.23 H710.20 M460.40,25.83 H462.60 M712.40,25.83 H710.20 M460.40,21.42 H462.60 M712.40,21.42 H710.20 M460.40,17.69 H462.60 M712.40,17.69 H710.20 M460.40,14.46 H462.60 M712.40,14.46 H710.20 M460.40,11.61 H462.60 M712.40,11.61 H710.20 M460.40,9.06 H464.90 M712.40,9.06 H707.90" stroke="#111" stroke-width="0.9" fill="none"/>
<rect x="460.40" y="9.00" width="252.00" height="278.60" fill="none" stroke="#1a1a1a" stroke-width="1.9"/>
<text x="430.20" y="291.86" font-size="12.3" style="font-family:'Liberation Sans',sans-serif" fill="#000" textLength="14.2" lengthAdjust="spacingAndGlyphs">10</text>
<text x="444.60" y="286.26" font-size="9" style="font-family:'Liberation Sans',sans-serif" fill="#000">-3</text>
<text x="430.20" y="236.14" font-size="12.3" style="font-family:'Liberation Sans',sans-serif" fill="#000" textLength="14.2" lengthAdjust="spacingAndGlyphs">10</text>
<text x="444.60" y="230.54" font-size="9" style="font-family:'Liberation Sans',sans-serif" fill="#000">-2</text>
<text x="430.20" y="180.42" font-size="12.3" style="font-family:'Liberation Sans',sans-serif" fill="#000" textLength="14.2" lengthAdjust="spacingAndGlyphs">10</text>
<text x="444.60" y="174.82" font-size="9" style="font-family:'Liberation Sans',sans-serif" fill="#000">-1</text>
<text x="432.90" y="124.70" font-size="12.3" style="font-family:'Liberation Sans',sans-serif" fill="#000" textLength="14.2" lengthAdjust="spacingAndGlyphs">10</text>
<text x="447.30" y="119.10" font-size="9" style="font-family:'Liberation Sans',sans-serif" fill="#000">0</text>
<text x="432.90" y="68.98" font-size="12.3" style="font-family:'Liberation Sans',sans-serif" fill="#000" textLength="14.2" lengthAdjust="spacingAndGlyphs">10</text>
<text x="447.30" y="63.38" font-size="9" style="font-family:'Liberation Sans',sans-serif" fill="#000">1</text>
<text x="432.90" y="13.26" font-size="12.3" style="font-family:'Liberation Sans',sans-serif" fill="#000" textLength="14.2" lengthAdjust="spacingAndGlyphs">10</text>
<text x="447.30" y="7.66" font-size="9" style="font-family:'Liberation Sans',sans-serif" fill="#000">2</text>
<text x="475.85" y="302.9" font-size="12.3" style="font-family:'Liberation Sans',sans-serif" fill="#000" textLength="13.9" lengthAdjust="spacingAndGlyphs">10</text>
<text x="489.95" y="297.4" font-size="9" style="font-family:'Liberation Sans',sans-serif" fill="#000">-1</text>
<text x="532.85" y="302.9" font-size="12.3" style="font-family:'Liberation Sans',sans-serif" fill="#000" textLength="13.9" lengthAdjust="spacingAndGlyphs">10</text>
<text x="546.95" y="297.4" font-size="9" style="font-family:'Liberation Sans',sans-serif" fill="#000">0</text>
<text x="588.65" y="302.9" font-size="12.3" style="font-family:'Liberation Sans',sans-serif" fill="#000" textLength="13.9" lengthAdjust="spacingAndGlyphs">10</text>
<text x="602.75" y="297.4" font-size="9" style="font-family:'Liberation Sans',sans-serif" fill="#000">1</text>
<text x="644.45" y="302.9" font-size="12.3" style="font-family:'Liberation Sans',sans-serif" fill="#000" textLength="13.9" lengthAdjust="spacingAndGlyphs">10</text>
<text x="658.55" y="297.4" font-size="9" style="font-family:'Liberation Sans',sans-serif" fill="#000">2</text>
<text x="700.25" y="302.9" font-size="12.3" style="font-family:'Liberation Sans',sans-serif" fill="#000" textLength="13.9" lengthAdjust="spacingAndGlyphs">10</text>
<text x="714.35" y="297.4" font-size="9" style="font-family:'Liberation Sans',sans-serif" fill="#000">3</text>
<circle cx="476.9" cy="25.4" r="4.5" fill="#4a4af5" stroke="#333" stroke-width="0.9"/>
<path d="M476.9,38.3 L482.3,43.8 L476.9,49.3 L471.5,43.8 Z" fill="#4a4af5" stroke="#333" stroke-width="0.9"/>
<path d="M476.90,56.30 L478.43,60.50 L482.89,60.65 L479.37,63.40 L480.60,67.70 L476.90,65.20 L473.20,67.70 L474.43,63.40 L470.91,60.65 L475.37,60.50Z" fill="#4a4af5" stroke="#333" stroke-width="0.9"/>
<text x="493.8" y="28.8" font-size="11.6" style="font-family:'Liberation Sans',sans-serif" fill="#000" textLength="60.1" lengthAdjust="spacingAndGlyphs">Long GRBs</text>
<text x="492.1" y="47.0" font-size="11.6" style="font-family:'Liberation Sans',sans-serif" fill="#000" textLength="63.1" lengthAdjust="spacingAndGlyphs">Short GRBs</text>
<text x="492.1" y="65.4" font-size="11.6" style="font-family:'Liberation Sans',sans-serif" fill="#000" textLength="75.8" lengthAdjust="spacingAndGlyphs">GRB 170817A</text>
<g transform="translate(419.9,184) rotate(-90)"><text x="0" y="0" font-size="14" style="font-family:'Liberation Serif',serif" fill="#000" textLength="11.3" lengthAdjust="spacingAndGlyphs">Δ</text><text x="12.4" y="0" font-size="13" style="font-family:'Liberation Serif',serif" fill="#000">t</text><text x="16.3" y="3.4" font-size="10.5" style="font-family:'Liberation Serif',serif" fill="#000" textLength="16.3" lengthAdjust="spacingAndGlyphs">min</text><text x="39.2" y="0" font-size="13" style="font-family:'Liberation Sans',sans-serif" fill="#000" textLength="30.3" lengthAdjust="spacingAndGlyphs">(sec)</text></g>
<text x="556.8" y="321.7" font-size="14.5" style="font-family:'Liberation Serif',serif" fill="#000">T</text>
<text x="566.4" y="325.2" font-size="9.5" style="font-family:'Liberation Serif',serif" fill="#000" textLength="10.9" lengthAdjust="spacingAndGlyphs">90</text>
<text x="581.4" y="321.3" font-size="13" style="font-family:'Liberation Sans',sans-serif" fill="#000" textLength="33.4" lengthAdjust="spacingAndGlyphs">(sec)</text>
<text x="572.8" y="348.8" font-size="15.5" style="font-family:'Liberation Serif',serif" fill="#000">(b)</text>
<defs><linearGradient id="jet" x1="0" y1="0" x2="0" y2="1"><stop offset="0.000" stop-color="#992020"/><stop offset="0.125" stop-color="#ee3333"/><stop offset="0.250" stop-color="#ee9933"/><stop offset="0.375" stop-color="#eeee33"/><stop offset="0.500" stop-color="#99ee99"/><stop offset="0.625" stop-color="#33eeee"/><stop offset="0.750" stop-color="#3399ee"/><stop offset="0.875" stop-color="#3333ee"/><stop offset="1.000" stop-color="#202099"/></linearGradient></defs>
<rect x="730.00" y="78.10" width="3.90" height="140.30" fill="url(#jet)" stroke="#111" stroke-width="0.9"/>
<path d="M728.8,84.30 H731.5" stroke="#000" stroke-width="0.9"/>
<text x="737.6" y="87.30" font-size="8.4" style="font-family:'Liberation Sans',sans-serif" fill="#000" textLength="17" lengthAdjust="spacingAndGlyphs">1.00</text>
<path d="M728.8,115.20 H731.5" stroke="#000" stroke-width="0.9"/>
<text x="737.6" y="118.20" font-size="8.4" style="font-family:'Liberation Sans',sans-serif" fill="#000" textLength="17" lengthAdjust="spacingAndGlyphs">0.74</text>
<path d="M728.8,145.80 H731.5" stroke="#000" stroke-width="0.9"/>
<text x="737.6" y="148.80" font-size="8.4" style="font-family:'Liberation Sans',sans-serif" fill="#000" textLength="17" lengthAdjust="spacingAndGlyphs">0.55</text>
<path d="M728.8,176.20 H731.5" stroke="#000" stroke-width="0.9"/>
<text x="737.6" y="179.20" font-size="8.4" style="font-family:'Liberation Sans',sans-serif" fill="#000" textLength="17" lengthAdjust="spacingAndGlyphs">0.40</text>
<path d="M728.8,206.90 H731.5" stroke="#000" stroke-width="0.9"/>
<text x="737.6" y="209.90" font-size="8.4" style="font-family:'Liberation Sans',sans-serif" fill="#000" textLength="17" lengthAdjust="spacingAndGlyphs">0.30</text>
<text x="718.8" y="63.6" font-size="12.5" font-style="italic" style="font-family:'Liberation Serif',serif" fill="#000">σ</text>
<text x="727.1" y="67.3" font-size="10" style="font-family:'Liberation Serif',serif" fill="#000" textLength="20.9" lengthAdjust="spacingAndGlyphs">X,Δt</text>
<text x="748.7" y="70.1" font-size="7.2" style="font-family:'Liberation Serif',serif" fill="#000">min</text>
</svg>
</body></html>
